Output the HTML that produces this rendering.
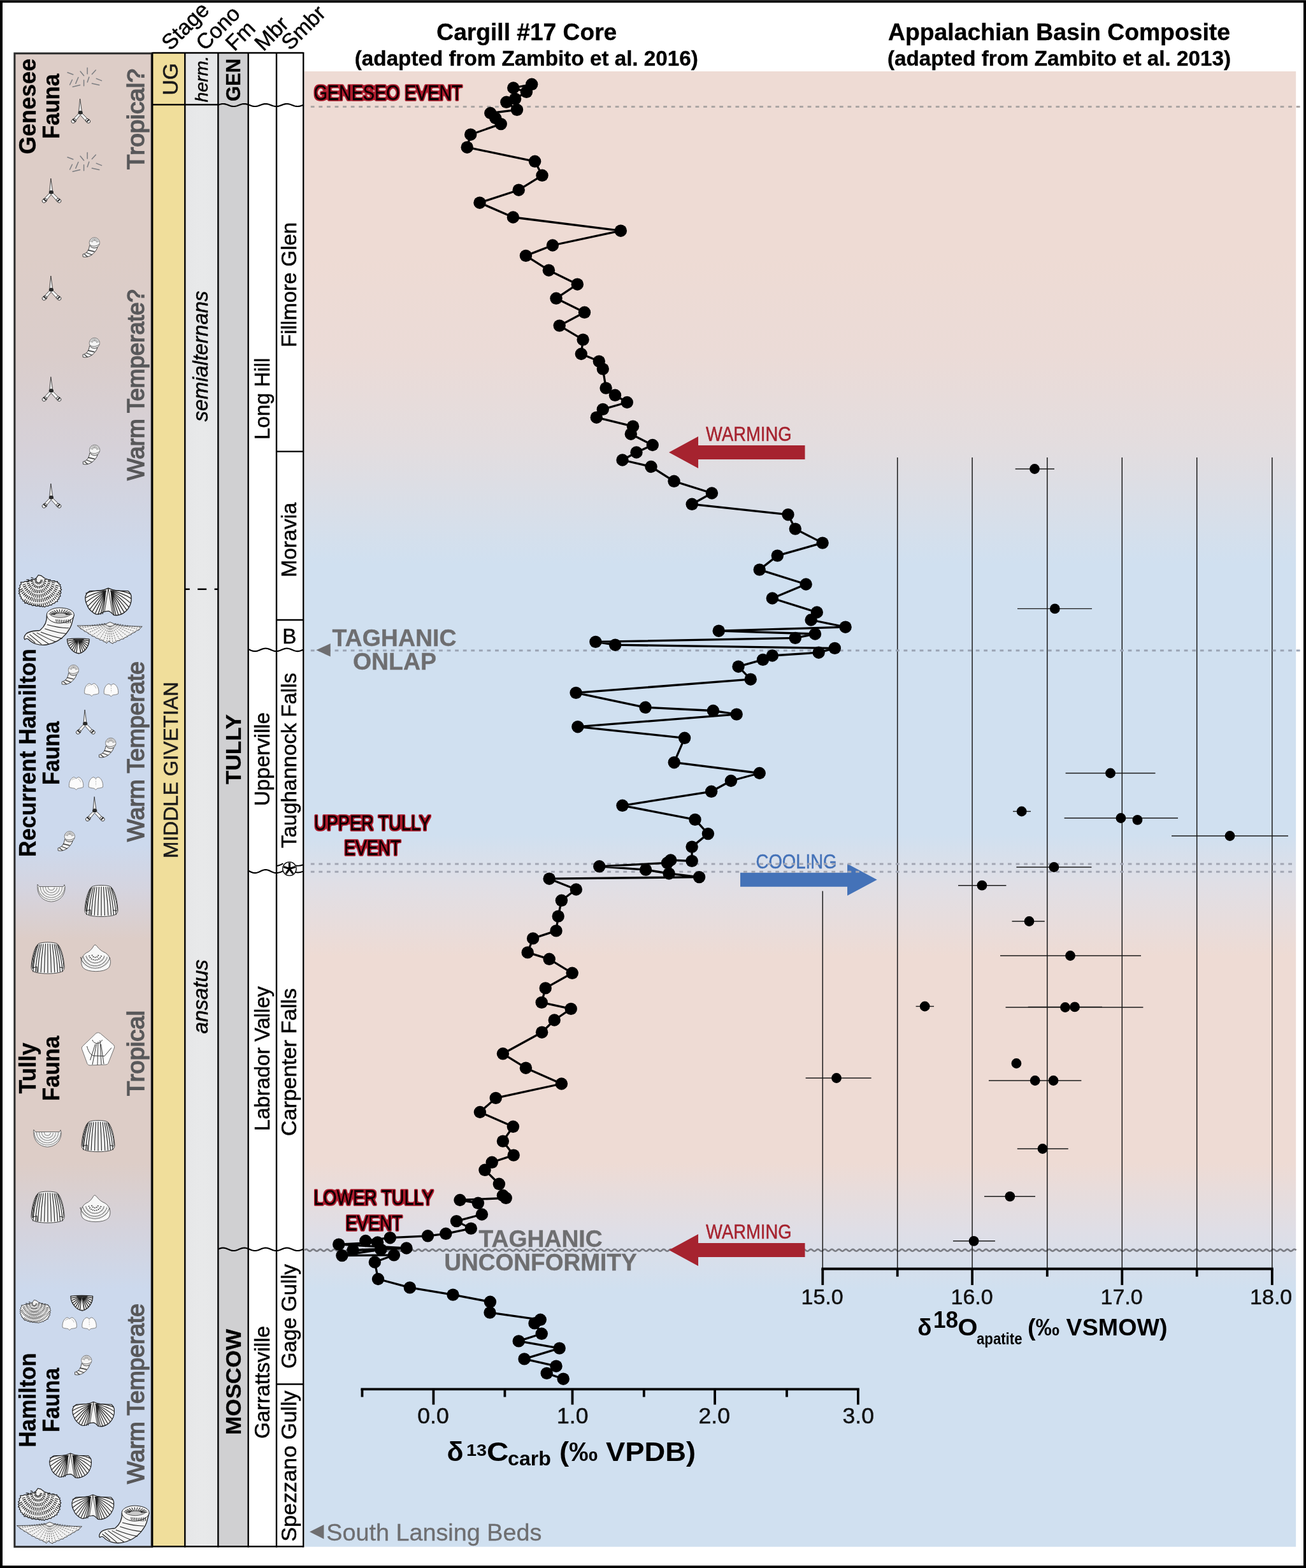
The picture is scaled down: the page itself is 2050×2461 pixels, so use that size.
<!DOCTYPE html>
<html lang="en"><head><meta charset="utf-8"><title>Taghanic Biocrisis chemostratigraphy</title>
<style>html,body{margin:0;padding:0;background:#fff}body{width:2050px;height:2461px;overflow:hidden}svg{display:block}text{font-family:"Liberation Sans", sans-serif}</style>
</head><body>
<svg width="2050" height="2461" viewBox="0 0 2050 2461">
<defs>
<linearGradient id="gp" x1="0" y1="0" x2="0" y2="1"><stop offset="0.0000" stop-color="#eedbd4"/><stop offset="0.1244" stop-color="#eedbd4"/><stop offset="0.1935" stop-color="#ebdbd7"/><stop offset="0.2539" stop-color="#e3dddf"/><stop offset="0.3338" stop-color="#d0e0f0"/><stop offset="0.5173" stop-color="#d0e0f0"/><stop offset="0.5497" stop-color="#e0dfe6"/><stop offset="0.5994" stop-color="#eedbd4"/><stop offset="0.7397" stop-color="#eedbd4"/><stop offset="0.7859" stop-color="#dfdee6"/><stop offset="0.8261" stop-color="#d0e0f0"/><stop offset="0.9997" stop-color="#d0e0f0"/></linearGradient>
<linearGradient id="gf" x1="0" y1="0" x2="0" y2="1"><stop offset="0.0000" stop-color="#ddcdc7"/><stop offset="0.1352" stop-color="#ddcdc7"/><stop offset="0.2035" stop-color="#dacdcb"/><stop offset="0.2632" stop-color="#d6d1d8"/><stop offset="0.3421" stop-color="#ccd9ed"/><stop offset="0.5298" stop-color="#ccd9ed"/><stop offset="0.5596" stop-color="#d5d4df"/><stop offset="0.5937" stop-color="#ddcdc7"/><stop offset="0.7430" stop-color="#ddcdc7"/><stop offset="0.7887" stop-color="#d4d3dd"/><stop offset="0.8283" stop-color="#ccd9ed"/><stop offset="0.9998" stop-color="#ccd9ed"/></linearGradient>
<linearGradient id="gc" x1="0" y1="0" x2="1" y2="0"><stop offset="0" stop-color="#e6e7e8"/><stop offset="0.5" stop-color="#e8e9ea"/><stop offset="1" stop-color="#e6e7e8"/></linearGradient>
<filter id="redol" x="-5%" y="-20%" width="110%" height="140%"><feMorphology in="SourceAlpha" operator="dilate" radius="2" result="d"/><feGaussianBlur in="d" stdDeviation="1.0" result="b"/><feComponentTransfer in="b" result="t"><feFuncA type="linear" slope="4" intercept="-2.3"/></feComponentTransfer><feFlood flood-color="#b01d2e"/><feComposite in2="t" operator="in" result="o"/><feMerge><feMergeNode in="o"/><feMergeNode in="SourceGraphic"/></feMerge></filter>
</defs>
<rect x="0" y="0" width="2050" height="2461" fill="#fff"/>
<rect x="478" y="112.0" width="1556.2" height="2315.7" fill="url(#gp)"/>
<rect x="22.9" y="83.8" width="215.29999999999998" height="2343.8999999999996" fill="url(#gf)" stroke="#2b2b2b" stroke-width="3"/>
<rect x="239.2" y="83.0" width="51.10000000000002" height="2344.3" fill="#f0de9b"/>
<rect x="290.3" y="83.0" width="52.099999999999966" height="2344.3" fill="url(#gc)"/>
<rect x="342.4" y="83.0" width="47.30000000000001" height="2344.3" fill="#d0d0d2"/>
<rect x="389.7" y="83.0" width="44.30000000000001" height="2344.3" fill="#fff"/>
<rect x="434.0" y="83.0" width="42.19999999999999" height="2344.3" fill="#fff"/>
<!--FOSSILS-->
<g id="fossils">
<g transform="translate(132.5,122.0)">
<path d="M-26.5,-8.2 L-17.8,-5 M-6.4,-10 L-0.9,-3.2 M4.6,-15.5 L4.6,-6 M17.8,-11.9 L11.9,-5.5 M-9.6,-0.5 L-13.7,9.1 M-19.2,3.2 L-22.9,11 M-0.9,3.7 L-0.9,12.8 M7.3,-0.9 L4.6,6.9 M18.8,1.4 L27,4.6 M11.9,9.1 L23.3,11.4 M-18.3,14.2 L-6.9,11.4" stroke="#6b7076" stroke-width="1.5" fill="none" stroke-linecap="round" opacity="0.85"/>
</g>
<g transform="translate(126.0,175.5)">
<path d="M-0.4,-20.5 L-2.3,-1 L2.3,-1 Z" fill="#f6f6f6" stroke="#1e1e1e" stroke-width="0.8" stroke-linejoin="round"/>
<path d="M-2,2 L-11.5,12 L-8.5,15.5 L0,5 L9.5,15.5 L13,12.5 L2.5,2 Z" fill="#f6f6f6" stroke="#1e1e1e" stroke-width="0.8" stroke-linejoin="round"/>
<ellipse cx="0.2" cy="1.2" rx="3.6" ry="3" fill="#2a2a2a"/>
<ellipse cx="-10.3" cy="14.3" rx="4" ry="3" transform="rotate(-35 -10.3 14.3)" fill="#f6f6f6" stroke="#1e1e1e" stroke-width="0.8"/>
<ellipse cx="12" cy="14.3" rx="4" ry="3" transform="rotate(35 12 14.3)" fill="#f6f6f6" stroke="#1e1e1e" stroke-width="0.8"/>
<path d="M-12,11.5 L-7.5,15.5 M10,15.5 L14,12" stroke="#2a2a2a" stroke-width="2.2" fill="none"/>
</g>
<g transform="translate(132.5,255.0)">
<path d="M-26.5,-8.2 L-17.8,-5 M-6.4,-10 L-0.9,-3.2 M4.6,-15.5 L4.6,-6 M17.8,-11.9 L11.9,-5.5 M-9.6,-0.5 L-13.7,9.1 M-19.2,3.2 L-22.9,11 M-0.9,3.7 L-0.9,12.8 M7.3,-0.9 L4.6,6.9 M18.8,1.4 L27,4.6 M11.9,9.1 L23.3,11.4 M-18.3,14.2 L-6.9,11.4" stroke="#6b7076" stroke-width="1.5" fill="none" stroke-linecap="round" opacity="0.85"/>
</g>
<g transform="translate(80.2,300.5)">
<path d="M-0.4,-20.5 L-2.3,-1 L2.3,-1 Z" fill="#f6f6f6" stroke="#1e1e1e" stroke-width="0.8" stroke-linejoin="round"/>
<path d="M-2,2 L-11.5,12 L-8.5,15.5 L0,5 L9.5,15.5 L13,12.5 L2.5,2 Z" fill="#f6f6f6" stroke="#1e1e1e" stroke-width="0.8" stroke-linejoin="round"/>
<ellipse cx="0.2" cy="1.2" rx="3.6" ry="3" fill="#2a2a2a"/>
<ellipse cx="-10.3" cy="14.3" rx="4" ry="3" transform="rotate(-35 -10.3 14.3)" fill="#f6f6f6" stroke="#1e1e1e" stroke-width="0.8"/>
<ellipse cx="12" cy="14.3" rx="4" ry="3" transform="rotate(35 12 14.3)" fill="#f6f6f6" stroke="#1e1e1e" stroke-width="0.8"/>
<path d="M-12,11.5 L-7.5,15.5 M10,15.5 L14,12" stroke="#2a2a2a" stroke-width="2.2" fill="none"/>
</g>
<g transform="translate(143.5,388.5)">
<path d="M-3,-3 C-4,5 -8,9.5 -13.4,10.5 L-13.4,14.5 C-5,16.5 5,11 9.5,0 Z" fill="#f4f4f4" stroke="#444" stroke-width="1" stroke-linejoin="round"/>
<path d="M-5.5,4 L5,6.5 M-8,8 L1,11.5 M-11,10.5 L-6,14.5" stroke="#333" stroke-width="1.3" fill="none"/>
<circle cx="4.8" cy="-7.6" r="8.2" fill="#f4f4f4" stroke="#666" stroke-width="0.8"/>
<path d="M2.0,-8.6 L-2.3,-10.2 M2.4,-9.4 L-1.2,-12.3 M3.1,-10.1 L0.6,-13.9 M4.0,-10.5 L2.7,-14.9 M4.9,-10.6 L5.1,-15.2 M5.8,-10.4 L7.4,-14.7 M6.6,-10.0 L9.5,-13.6 M7.3,-9.3 L11.1,-11.8 M7.7,-8.4 L12.1,-9.7 " stroke="#777" stroke-width="0.8" fill="none"/>
<path d="M-2.5,-4.5 C1,-1 8,-1.5 12.5,-5.5 M-1.5,-1.5 C3,2 8,1 11,-2" stroke="#555" stroke-width="0.9" fill="none"/>
</g>
<g transform="translate(80.2,453.5)">
<path d="M-0.4,-20.5 L-2.3,-1 L2.3,-1 Z" fill="#f6f6f6" stroke="#1e1e1e" stroke-width="0.8" stroke-linejoin="round"/>
<path d="M-2,2 L-11.5,12 L-8.5,15.5 L0,5 L9.5,15.5 L13,12.5 L2.5,2 Z" fill="#f6f6f6" stroke="#1e1e1e" stroke-width="0.8" stroke-linejoin="round"/>
<ellipse cx="0.2" cy="1.2" rx="3.6" ry="3" fill="#2a2a2a"/>
<ellipse cx="-10.3" cy="14.3" rx="4" ry="3" transform="rotate(-35 -10.3 14.3)" fill="#f6f6f6" stroke="#1e1e1e" stroke-width="0.8"/>
<ellipse cx="12" cy="14.3" rx="4" ry="3" transform="rotate(35 12 14.3)" fill="#f6f6f6" stroke="#1e1e1e" stroke-width="0.8"/>
<path d="M-12,11.5 L-7.5,15.5 M10,15.5 L14,12" stroke="#2a2a2a" stroke-width="2.2" fill="none"/>
</g>
<g transform="translate(143.5,546.0)">
<path d="M-3,-3 C-4,5 -8,9.5 -13.4,10.5 L-13.4,14.5 C-5,16.5 5,11 9.5,0 Z" fill="#f4f4f4" stroke="#444" stroke-width="1" stroke-linejoin="round"/>
<path d="M-5.5,4 L5,6.5 M-8,8 L1,11.5 M-11,10.5 L-6,14.5" stroke="#333" stroke-width="1.3" fill="none"/>
<circle cx="4.8" cy="-7.6" r="8.2" fill="#f4f4f4" stroke="#666" stroke-width="0.8"/>
<path d="M2.0,-8.6 L-2.3,-10.2 M2.4,-9.4 L-1.2,-12.3 M3.1,-10.1 L0.6,-13.9 M4.0,-10.5 L2.7,-14.9 M4.9,-10.6 L5.1,-15.2 M5.8,-10.4 L7.4,-14.7 M6.6,-10.0 L9.5,-13.6 M7.3,-9.3 L11.1,-11.8 M7.7,-8.4 L12.1,-9.7 " stroke="#777" stroke-width="0.8" fill="none"/>
<path d="M-2.5,-4.5 C1,-1 8,-1.5 12.5,-5.5 M-1.5,-1.5 C3,2 8,1 11,-2" stroke="#555" stroke-width="0.9" fill="none"/>
</g>
<g transform="translate(80.2,612.0)">
<path d="M-0.4,-20.5 L-2.3,-1 L2.3,-1 Z" fill="#f6f6f6" stroke="#1e1e1e" stroke-width="0.8" stroke-linejoin="round"/>
<path d="M-2,2 L-11.5,12 L-8.5,15.5 L0,5 L9.5,15.5 L13,12.5 L2.5,2 Z" fill="#f6f6f6" stroke="#1e1e1e" stroke-width="0.8" stroke-linejoin="round"/>
<ellipse cx="0.2" cy="1.2" rx="3.6" ry="3" fill="#2a2a2a"/>
<ellipse cx="-10.3" cy="14.3" rx="4" ry="3" transform="rotate(-35 -10.3 14.3)" fill="#f6f6f6" stroke="#1e1e1e" stroke-width="0.8"/>
<ellipse cx="12" cy="14.3" rx="4" ry="3" transform="rotate(35 12 14.3)" fill="#f6f6f6" stroke="#1e1e1e" stroke-width="0.8"/>
<path d="M-12,11.5 L-7.5,15.5 M10,15.5 L14,12" stroke="#2a2a2a" stroke-width="2.2" fill="none"/>
</g>
<g transform="translate(143.8,714.0)">
<path d="M-3,-3 C-4,5 -8,9.5 -13.4,10.5 L-13.4,14.5 C-5,16.5 5,11 9.5,0 Z" fill="#f4f4f4" stroke="#444" stroke-width="1" stroke-linejoin="round"/>
<path d="M-5.5,4 L5,6.5 M-8,8 L1,11.5 M-11,10.5 L-6,14.5" stroke="#333" stroke-width="1.3" fill="none"/>
<circle cx="4.8" cy="-7.6" r="8.2" fill="#f4f4f4" stroke="#666" stroke-width="0.8"/>
<path d="M2.0,-8.6 L-2.3,-10.2 M2.4,-9.4 L-1.2,-12.3 M3.1,-10.1 L0.6,-13.9 M4.0,-10.5 L2.7,-14.9 M4.9,-10.6 L5.1,-15.2 M5.8,-10.4 L7.4,-14.7 M6.6,-10.0 L9.5,-13.6 M7.3,-9.3 L11.1,-11.8 M7.7,-8.4 L12.1,-9.7 " stroke="#777" stroke-width="0.8" fill="none"/>
<path d="M-2.5,-4.5 C1,-1 8,-1.5 12.5,-5.5 M-1.5,-1.5 C3,2 8,1 11,-2" stroke="#555" stroke-width="0.9" fill="none"/>
</g>
<g transform="translate(80.2,779.5)">
<path d="M-0.4,-20.5 L-2.3,-1 L2.3,-1 Z" fill="#f6f6f6" stroke="#1e1e1e" stroke-width="0.8" stroke-linejoin="round"/>
<path d="M-2,2 L-11.5,12 L-8.5,15.5 L0,5 L9.5,15.5 L13,12.5 L2.5,2 Z" fill="#f6f6f6" stroke="#1e1e1e" stroke-width="0.8" stroke-linejoin="round"/>
<ellipse cx="0.2" cy="1.2" rx="3.6" ry="3" fill="#2a2a2a"/>
<ellipse cx="-10.3" cy="14.3" rx="4" ry="3" transform="rotate(-35 -10.3 14.3)" fill="#f6f6f6" stroke="#1e1e1e" stroke-width="0.8"/>
<ellipse cx="12" cy="14.3" rx="4" ry="3" transform="rotate(35 12 14.3)" fill="#f6f6f6" stroke="#1e1e1e" stroke-width="0.8"/>
<path d="M-12,11.5 L-7.5,15.5 M10,15.5 L14,12" stroke="#2a2a2a" stroke-width="2.2" fill="none"/>
</g>
<g transform="translate(63.0,927.7)">
<polygon points="-2.8,-25.2 -3.8,-23.6 -4.9,-22.1 -6.0,-20.6 -7.0,-19.0 -9.8,-18.4 -12.5,-17.8 -14.5,-16.3 -18.0,-16.5 -20.0,-15.0 -24.2,-15.2 -25.9,-13.8 -30.4,-13.8 -29.6,-10.8 -32.0,-8.9 -31.2,-6.1 -33.6,-4.0 -31.9,-1.9 -33.6,-0.1 -31.9,1.8 -33.6,3.8 -31.1,5.6 -31.8,7.9 -29.4,9.5 -30.0,12.0 -27.1,13.0 -27.1,15.4 -24.4,16.3 -24.2,18.9 -20.1,18.9 -18.1,20.9 -14.3,20.9 -12.0,23.0 -8.5,22.2 -6.0,23.8 -2.8,22.9 0.0,24.5 1.7,23.4 3.6,24.9 5.2,23.8 7.3,25.2 9.5,23.2 12.6,23.6 14.6,21.7 18.0,22.0 19.3,19.6 22.7,19.2 23.8,16.9 27.4,16.4 27.1,13.6 29.7,12.2 29.3,9.6 32.0,8.0 30.8,5.1 32.9,2.8 31.6,0.1 33.7,-2.5 31.6,-4.2 32.9,-6.2 30.8,-7.7 32.0,-10.0 29.3,-10.7 29.7,-12.6 27.1,-13.1 27.4,-15.1 23.3,-14.8 21.7,-16.1 17.9,-15.7 16.0,-17.0 13.1,-16.9 11.7,-18.5 9.5,-19.2 7.3,-20.0 6.0,-21.0 4.7,-22.0 3.3,-23.0 2.0,-24.0 0.8,-24.3 -0.4,-24.6 -1.6,-24.9" fill="#f2f2f2" stroke="#1e1e1e" stroke-width="1.2" stroke-linejoin="round"/>
<path d="M0.5,-17.0 L4.0,-16.9 M0.2,-15.6 L3.3,-14.0 M-0.6,-14.5 L1.5,-11.6 M-1.8,-13.9 L-1.1,-10.3 M-3.2,-13.9 L-3.9,-10.3 M-4.4,-14.5 L-6.5,-11.6 M-5.2,-15.6 L-8.3,-14.0 M-5.5,-17.0 L-9.0,-16.9 M-5.2,-18.3 L-8.4,-19.9 M6.0,-17.7 L10.0,-18.1 M5.9,-15.5 L9.8,-14.8 M5.2,-13.3 L8.9,-11.6 M4.1,-11.4 L7.2,-8.7 M2.5,-9.8 L4.9,-6.4 M0.7,-8.7 L2.2,-4.8 M-1.4,-8.1 L-0.9,-4.0 M-3.6,-8.1 L-4.1,-4.0 M-5.7,-8.7 L-7.2,-4.8 M-7.5,-9.8 L-9.9,-6.4 M-9.1,-11.4 L-12.2,-8.7 M-10.2,-13.3 L-13.9,-11.6 M-10.9,-15.5 L-14.8,-14.8 M-11.0,-17.7 L-15.0,-18.1 M-10.5,-19.9 L-14.3,-21.3 M12.0,-17.6 L16.5,-17.8 M11.9,-15.0 L16.3,-14.4 M11.4,-12.5 L15.7,-11.1 M10.4,-10.1 L14.5,-8.0 M9.1,-7.9 L12.8,-5.1 M7.5,-6.0 L10.6,-2.6 M5.6,-4.4 L8.1,-0.5 M3.5,-3.1 L5.3,1.2 M1.1,-2.3 L2.3,2.3 M-1.3,-1.8 L-0.9,2.9 M-3.7,-1.8 L-4.1,2.9 M-6.1,-2.3 L-7.3,2.3 M-8.5,-3.1 L-10.3,1.2 M-10.6,-4.4 L-13.1,-0.5 M-12.5,-6.0 L-15.6,-2.6 M-14.1,-7.9 L-17.8,-5.1 M-15.4,-10.1 L-19.5,-8.0 M-16.4,-12.5 L-20.7,-11.1 M-16.9,-15.0 L-21.3,-14.4 M-17.0,-17.6 L-21.5,-17.8 M18.5,-16.2 L23.5,-16.0 M18.2,-13.5 L23.2,-12.7 M17.7,-10.9 L22.5,-9.4 M16.8,-8.3 L21.4,-6.3 M15.6,-5.9 L20.0,-3.3 M14.2,-3.7 L18.2,-0.5 M12.5,-1.6 L16.1,2.1 M10.6,0.2 L13.8,4.3 M8.5,1.8 L11.1,6.2 M6.2,3.0 L8.3,7.8 M3.8,4.0 L5.4,9.0 M1.3,4.7 L2.3,9.8 M-1.2,5.0 L-0.9,10.2 M-3.8,5.0 L-4.1,10.2 M-6.3,4.7 L-7.3,9.8 M-8.8,4.0 L-10.4,9.0 M-11.2,3.0 L-13.3,7.8 M-13.5,1.8 L-16.1,6.2 M-15.6,0.2 L-18.8,4.3 M-17.5,-1.6 L-21.1,2.1 M-19.2,-3.7 L-23.2,-0.5 M-20.6,-5.9 L-25.0,-3.3 M-21.8,-8.3 L-26.4,-6.3 M-22.7,-10.9 L-27.5,-9.4 M24.5,-9.1 L29.3,-7.7 M23.6,-6.4 L28.3,-4.5 M22.5,-3.8 L27.0,-1.5 M21.2,-1.4 L25.5,1.4 M19.7,0.9 L23.6,4.2 M17.9,3.1 L21.6,6.7 M16.0,5.1 L19.3,9.0 M13.9,6.8 L16.8,11.1 M11.6,8.4 L14.2,12.9 M9.2,9.7 L11.3,14.5 M6.8,10.7 L8.4,15.7 M4.2,11.6 L5.4,16.7 M1.5,12.1 L2.2,17.3 M-1.2,12.4 L-0.9,17.6 M-3.8,12.4 L-4.1,17.6 M-6.5,12.1 L-7.2,17.3 M-9.2,11.6 L-10.4,16.7 M-11.8,10.7 L-13.4,15.7 M-14.2,9.7 L-16.3,14.5 M-16.6,8.4 L-19.2,12.9 M-18.9,6.8 L-21.8,11.1 M-21.0,5.1 L-24.3,9.0 M-22.9,3.1 L-26.6,6.7 M-24.7,0.9 L-28.6,4.2 M-26.2,-1.4 L-30.5,1.4 M-27.5,-3.8 L-32.0,-1.5 M29.0,-0.9 L32.6,0.9 M27.6,1.8 L31.0,3.9 M26.0,4.3 L29.3,6.7 M24.2,6.7 L27.3,9.4 M22.3,9.0 L25.1,11.9 M20.1,11.0 L22.7,14.2 M17.9,12.9 L20.2,16.3 M15.4,14.6 L17.5,18.2 M12.9,16.0 L14.7,19.8 M10.2,17.2 L11.7,21.1 M7.5,18.2 L8.6,22.2 M4.7,19.0 L5.5,23.1 M1.8,19.5 L2.3,23.6 M-1.1,19.7 L-0.9,23.9 M-3.9,19.7 L-4.1,23.9 M-6.8,19.5 L-7.3,23.6 M-9.7,19.0 L-10.5,23.1 M-12.5,18.2 L-13.6,22.2 M-15.2,17.2 L-16.7,21.1 M-17.9,16.0 L-19.7,19.8 M-20.4,14.6 L-22.5,18.2 M-22.9,12.9 L-25.2,16.3 " stroke="#1e1e1e" stroke-width="1.2" fill="none"/>
<path d="M-12,-16 C-8,-12 3,-12 8,-17 M-20,-13 C-12,-4 8,-4 17,-14 M-27,-8 C-16,6 12,6 25,-9 M-31,0 C-20,15 18,15 31,0" stroke="#1e1e1e" stroke-width="0.7" stroke-dasharray="2 2" fill="none"/>
</g>
<g transform="translate(170.0,944.6)">
<path d="M0,-21.4 C4,-19.5 8,-17.8 14,-17.5 L31,-17 C34.5,-14 36.2,-10 36,-7 C36.5,-1 35,4 33,7.5 C31,12 28,15 24,17.5 C18,21 12,21.6 8.5,20.7 C6,18 3,15 0,14.5 C-3,15 -5,15 -7.8,16 C-12,18.5 -16,20 -19,19.5 C-22,18.5 -24,17 -25.4,15.7 C-29,13 -32,9 -33,5.7 C-35.5,1 -36.4,-4 -36,-8 C-35,-12 -32,-15.5 -29,-17 L-14,-17.5 C-8,-17.8 -4,-19.5 0,-21.4 Z" fill="#f4f4f4" stroke="#1e1e1e" stroke-width="1.3" stroke-linejoin="round"/>
<path d="M3.0,-17.5 Q22.2,-18.8 35.5,-12 M-3.0,-17.5 Q-22.2,-18.8 -35.5,-13.2 M3.1,-17.3 Q22.1,-14.7 36,-5 M-3.1,-17.3 Q-22.1,-14.7 -36,-6.2 M3.3,-17.1 Q21.2,-10.6 35,2 M-3.3,-17.1 Q-21.2,-10.6 -35,0.8 M3.5,-16.9 Q19.6,-6.7 32.5,8.5 M-3.5,-16.9 Q-19.6,-6.7 -32.5,7.3 M3.6,-16.7 Q17.5,-3.8 29,13 M-3.6,-16.7 Q-17.5,-3.8 -29,11.8 M3.8,-16.5 Q15.1,-1.5 25,16.5 M-3.8,-16.5 Q-15.1,-1.5 -25,15.3 M3.9,-16.3 Q12.5,0.5 20.5,19.3 M-3.9,-16.3 Q-12.5,0.5 -20.5,18.1 M4.0,-16.1 Q9.9,1.8 16,20.8 M-4.0,-16.1 Q-9.9,1.8 -16,19.6 M4.2,-15.9 Q7.5,2.6 12,21.2 M-4.2,-15.9 Q-7.5,2.6 -12,20.0 M4.3,-15.7 Q5.6,2.9 9,20.5 M-4.3,-15.7 Q-5.6,2.9 -9,19.3 " stroke="#1e1e1e" stroke-width="1.2" fill="none"/>
<path d="M0,-21 L-6,15.5 M0,-21 L6.5,18" stroke="#1e1e1e" stroke-width="0.9" fill="none"/>
</g>
<g transform="translate(37.6,953.5)">
<path d="M35.8,11.9 C36.5,22.0 32.7,29.6 25.2,35.8 C18.9,37.1 11.3,35.8 3.8,40.9 C0.0,44.7 -0.6,48.4 1.3,50.3 C3.1,48.4 5.7,48.4 7.5,50.3 C12.6,56.0 23.9,60.4 35.2,58.5 C47.8,56.6 59.1,49.7 65.4,42.1 C70.4,35.8 74.8,28.3 75.5,23.3 L78.6,11.9 Z" fill="#f4f4f4" stroke="#1e1e1e" stroke-width="1.3" stroke-linejoin="round"/>
<path d="M35.8,11.9 C35.2,4.4 47.8,-0.6 59.1,0.6 C70.4,1.3 79.2,5.7 78.6,11.9 C78.0,18.2 69.2,23.3 57.9,24.5 C46.5,25.2 36.5,19.5 35.8,11.9 Z" fill="#f6f6f6" stroke="#1e1e1e" stroke-width="1"/>
<path d="M41.5,11.9 C47.8,8.2 62.9,7.5 73.0,11.3 C65.4,17.0 50.3,17.6 41.5,11.9 Z" fill="#c9c9c9" stroke="#1e1e1e" stroke-width="0.7"/>
<path d="M48.7,11.0 L39.0,9.9 M49.5,10.2 L40.7,7.8 M50.8,9.5 L43.4,5.9 M52.4,9.0 L47.0,4.4 M54.4,8.6 L51.1,3.4 M56.5,8.4 L55.6,2.9 M58.6,8.5 L60.2,3.0 M60.7,8.7 L64.6,3.6 M62.5,9.1 L68.6,4.8 M64.1,9.7 L71.9,6.4 M65.2,10.5 L74.3,8.3 M65.9,11.3 L75.8,10.5 M50.3,18.5 L50.9,22.9 M53.1,18.7 L53.7,23.3 M55.8,19.0 L56.5,23.6 M58.6,19.2 L59.2,24.0 M61.4,19.5 L62.0,24.4 M64.2,19.2 L64.8,24.8 M66.9,19.0 L67.5,25.2 M69.7,18.7 L70.3,24.8 M72.5,18.5 L73.1,24.4 M36.5,27.0 Q57.2,32.7 70.4,32.1 M32.7,33.3 Q53.5,40.3 66.7,40.9 M26.4,38.4 Q47.2,46.5 60.4,48.4 M20.1,39.6 Q39.0,50.0 50.3,54.1 M13.8,39.6 Q30.2,51.6 39.0,57.2 M8.8,42.1 Q22.0,53.1 27.7,57.9 M5.0,44.7 Q15.1,53.1 17.6,55.3 " stroke="#1e1e1e" stroke-width="1.05" fill="none"/>
</g>
<g transform="translate(172.2,993.0)">
<polygon points="-51.0,-11.0 -20.0,-11.5 -8.0,-13.0 0.5,-16.6 9.0,-13.0 22.0,-10.5 51.0,-9.7 47.2,-6.2 46.0,-4.2 41.2,-2.7 40.0,-0.7 35.2,0.8 34.0,2.8 29.2,4.3 28.0,6.3 23.2,7.8 22.0,9.8 17.2,10.3 16.0,12.3 11.2,12.8 10.0,14.8 6.2,15.3 5.0,17.3 0.0,14.8 -1.2,12.8 -5.0,16.8 -6.2,14.8 -10.0,13.8 -11.2,11.8 -16.0,11.3 -17.2,9.3 -22.0,8.3 -23.2,6.3 -28.0,5.3 -29.2,3.3 -34.0,1.3 -35.2,-0.7 -40.0,-2.2 -41.2,-4.2 -46.0,-6.2 -47.2,-8.2" fill="#f1f1f1" stroke="#333" stroke-width="0.9" stroke-linejoin="round"/>
<path d="M7.8,-13.8 L46,-5 M6.8,-13.3 L40,-1.5 M5.9,-12.7 L34,2 M4.9,-12.1 L28,5.5 M3.9,-11.6 L22,9 M3.0,-11.2 L16,11.5 M2.0,-10.8 L10,14 M1.2,-10.4 L5,16.5 M0.4,-10.8 L0,14 M-0.4,-10.5 L-5,16 M-1.2,-10.9 L-10,13 M-2.1,-11.3 L-16,10.5 M-3.1,-11.8 L-22,7.5 M-4.1,-12.3 L-28,4.5 M-5.0,-12.9 L-34,0.5 M-6.0,-13.5 L-40,-3 M-6.9,-14.1 L-46,-7 M8.3,-14.3 L49,-8 M-7.4,-14.5 L-49,-9 " stroke="#444" stroke-width="0.8" stroke-dasharray="2.2 1.6" fill="none"/>
</g>
<g transform="translate(122.8,1014.2)">
<path d="M-17.3,-11 C-10,-12.5 10,-12.5 17.3,-11 C17.5,-2 12,9 1,11.6 C-10,10.5 -17.5,-2 -17.3,-11 Z" fill="#f4f4f4" stroke="#1e1e1e" stroke-width="1.3" stroke-linejoin="round"/>
<path d="M3.0,-10.3 L17.3,-8.3 M2.9,-10.0 L16.5,-4.4 M2.6,-9.7 L15.0,-0.7 M2.3,-9.5 L12.9,2.7 M1.9,-9.3 L10.3,5.7 M1.5,-9.1 L7.3,8.2 M1.0,-9.0 L4.0,10.0 M0.5,-9.0 L0.5,11.0 M-0.0,-9.0 L-3.0,10.0 M-0.5,-9.1 L-6.3,8.2 M-0.9,-9.3 L-9.3,5.7 M-1.3,-9.5 L-11.9,2.7 M-1.6,-9.7 L-14.0,-0.7 M-1.9,-10.0 L-15.5,-4.4 M-2.0,-10.3 L-16.3,-8.3 " stroke="#1e1e1e" stroke-width="1.2" fill="none"/>
<path d="M-9,-11.5 C-4,-8 5,-8 10,-11.5 Z" fill="#333"/>
<path d="M0,-10 L-2.5,10.5 L3.5,11 Z" fill="#f8f8f8" stroke="#1e1e1e" stroke-width="0.6"/>
</g>
<g transform="translate(110.6,1059.4)">
<path d="M-3,-3 C-4,5 -8,9.5 -13.4,10.5 L-13.4,14.5 C-5,16.5 5,11 9.5,0 Z" fill="#f4f4f4" stroke="#444" stroke-width="1" stroke-linejoin="round"/>
<path d="M-5.5,4 L5,6.5 M-8,8 L1,11.5 M-11,10.5 L-6,14.5" stroke="#333" stroke-width="1.3" fill="none"/>
<circle cx="4.8" cy="-7.6" r="8.2" fill="#f4f4f4" stroke="#666" stroke-width="0.8"/>
<path d="M2.0,-8.6 L-2.3,-10.2 M2.4,-9.4 L-1.2,-12.3 M3.1,-10.1 L0.6,-13.9 M4.0,-10.5 L2.7,-14.9 M4.9,-10.6 L5.1,-15.2 M5.8,-10.4 L7.4,-14.7 M6.6,-10.0 L9.5,-13.6 M7.3,-9.3 L11.1,-11.8 M7.7,-8.4 L12.1,-9.7 " stroke="#777" stroke-width="0.8" fill="none"/>
<path d="M-2.5,-4.5 C1,-1 8,-1.5 12.5,-5.5 M-1.5,-1.5 C3,2 8,1 11,-2" stroke="#555" stroke-width="0.9" fill="none"/>
</g>
<g transform="translate(143.8,1082.5)">
<path d="M-11,6 C-12.2,-2 -8,-9.3 -3.2,-9.8 L0,-7.6 L3.2,-9.8 C8,-9.3 12.2,-2 11,6 C8,7.6 4,7.4 2.2,8 L0,10.3 L-2.2,8 C-4,7.4 -8,7.6 -11,6 Z" fill="#fbfbfb" stroke="#777" stroke-width="0.9" stroke-linejoin="round"/>
<path d="M-7,-5 C-5,-7 -3,-7.5 -2,-7 M3,-7 C5,-6 6.5,-4 7,-2" stroke="#999" stroke-width="0.7" fill="none"/>
</g>
<g transform="translate(174.4,1083.0)">
<path d="M-11,6 C-12.2,-2 -8,-9.3 -3.2,-9.8 L0,-7.6 L3.2,-9.8 C8,-9.3 12.2,-2 11,6 C8,7.6 4,7.4 2.2,8 L0,10.3 L-2.2,8 C-4,7.4 -8,7.6 -11,6 Z" fill="#fbfbfb" stroke="#777" stroke-width="0.9" stroke-linejoin="round"/>
<path d="M0,-7 L0.3,4" stroke="#999" stroke-width="0.7" stroke-dasharray="2 1.5" fill="none"/>
</g>
<g transform="translate(133.5,1134.5)">
<path d="M-0.4,-20.5 L-2.3,-1 L2.3,-1 Z" fill="#f6f6f6" stroke="#1e1e1e" stroke-width="0.8" stroke-linejoin="round"/>
<path d="M-2,2 L-11.5,12 L-8.5,15.5 L0,5 L9.5,15.5 L13,12.5 L2.5,2 Z" fill="#f6f6f6" stroke="#1e1e1e" stroke-width="0.8" stroke-linejoin="round"/>
<ellipse cx="0.2" cy="1.2" rx="3.6" ry="3" fill="#2a2a2a"/>
<ellipse cx="-10.3" cy="14.3" rx="4" ry="3" transform="rotate(-35 -10.3 14.3)" fill="#f6f6f6" stroke="#1e1e1e" stroke-width="0.8"/>
<ellipse cx="12" cy="14.3" rx="4" ry="3" transform="rotate(35 12 14.3)" fill="#f6f6f6" stroke="#1e1e1e" stroke-width="0.8"/>
<path d="M-12,11.5 L-7.5,15.5 M10,15.5 L14,12" stroke="#2a2a2a" stroke-width="2.2" fill="none"/>
</g>
<g transform="translate(169.0,1174.0)">
<path d="M-3,-3 C-4,5 -8,9.5 -13.4,10.5 L-13.4,14.5 C-5,16.5 5,11 9.5,0 Z" fill="#f4f4f4" stroke="#444" stroke-width="1" stroke-linejoin="round"/>
<path d="M-5.5,4 L5,6.5 M-8,8 L1,11.5 M-11,10.5 L-6,14.5" stroke="#333" stroke-width="1.3" fill="none"/>
<circle cx="4.8" cy="-7.6" r="8.2" fill="#f4f4f4" stroke="#666" stroke-width="0.8"/>
<path d="M2.0,-8.6 L-2.3,-10.2 M2.4,-9.4 L-1.2,-12.3 M3.1,-10.1 L0.6,-13.9 M4.0,-10.5 L2.7,-14.9 M4.9,-10.6 L5.1,-15.2 M5.8,-10.4 L7.4,-14.7 M6.6,-10.0 L9.5,-13.6 M7.3,-9.3 L11.1,-11.8 M7.7,-8.4 L12.1,-9.7 " stroke="#777" stroke-width="0.8" fill="none"/>
<path d="M-2.5,-4.5 C1,-1 8,-1.5 12.5,-5.5 M-1.5,-1.5 C3,2 8,1 11,-2" stroke="#555" stroke-width="0.9" fill="none"/>
</g>
<g transform="translate(119.6,1229.5)">
<path d="M-11,6 C-12.2,-2 -8,-9.3 -3.2,-9.8 L0,-7.6 L3.2,-9.8 C8,-9.3 12.2,-2 11,6 C8,7.6 4,7.4 2.2,8 L0,10.3 L-2.2,8 C-4,7.4 -8,7.6 -11,6 Z" fill="#fbfbfb" stroke="#777" stroke-width="0.9" stroke-linejoin="round"/>
<path d="M-7,-5 C-5,-7 -3,-7.5 -2,-7 M3,-7 C5,-6 6.5,-4 7,-2" stroke="#999" stroke-width="0.7" fill="none"/>
</g>
<g transform="translate(150.3,1229.5)">
<path d="M-11,6 C-12.2,-2 -8,-9.3 -3.2,-9.8 L0,-7.6 L3.2,-9.8 C8,-9.3 12.2,-2 11,6 C8,7.6 4,7.4 2.2,8 L0,10.3 L-2.2,8 C-4,7.4 -8,7.6 -11,6 Z" fill="#fbfbfb" stroke="#777" stroke-width="0.9" stroke-linejoin="round"/>
<path d="M0,-7 L0.3,4" stroke="#999" stroke-width="0.7" stroke-dasharray="2 1.5" fill="none"/>
</g>
<g transform="translate(148.5,1271.0)">
<path d="M-0.4,-20.5 L-2.3,-1 L2.3,-1 Z" fill="#f6f6f6" stroke="#1e1e1e" stroke-width="0.8" stroke-linejoin="round"/>
<path d="M-2,2 L-11.5,12 L-8.5,15.5 L0,5 L9.5,15.5 L13,12.5 L2.5,2 Z" fill="#f6f6f6" stroke="#1e1e1e" stroke-width="0.8" stroke-linejoin="round"/>
<ellipse cx="0.2" cy="1.2" rx="3.6" ry="3" fill="#2a2a2a"/>
<ellipse cx="-10.3" cy="14.3" rx="4" ry="3" transform="rotate(-35 -10.3 14.3)" fill="#f6f6f6" stroke="#1e1e1e" stroke-width="0.8"/>
<ellipse cx="12" cy="14.3" rx="4" ry="3" transform="rotate(35 12 14.3)" fill="#f6f6f6" stroke="#1e1e1e" stroke-width="0.8"/>
<path d="M-12,11.5 L-7.5,15.5 M10,15.5 L14,12" stroke="#2a2a2a" stroke-width="2.2" fill="none"/>
</g>
<g transform="translate(104.5,1320.5)">
<path d="M-3,-3 C-4,5 -8,9.5 -13.4,10.5 L-13.4,14.5 C-5,16.5 5,11 9.5,0 Z" fill="#f4f4f4" stroke="#444" stroke-width="1" stroke-linejoin="round"/>
<path d="M-5.5,4 L5,6.5 M-8,8 L1,11.5 M-11,10.5 L-6,14.5" stroke="#333" stroke-width="1.3" fill="none"/>
<circle cx="4.8" cy="-7.6" r="8.2" fill="#f4f4f4" stroke="#666" stroke-width="0.8"/>
<path d="M2.0,-8.6 L-2.3,-10.2 M2.4,-9.4 L-1.2,-12.3 M3.1,-10.1 L0.6,-13.9 M4.0,-10.5 L2.7,-14.9 M4.9,-10.6 L5.1,-15.2 M5.8,-10.4 L7.4,-14.7 M6.6,-10.0 L9.5,-13.6 M7.3,-9.3 L11.1,-11.8 M7.7,-8.4 L12.1,-9.7 " stroke="#777" stroke-width="0.8" fill="none"/>
<path d="M-2.5,-4.5 C1,-1 8,-1.5 12.5,-5.5 M-1.5,-1.5 C3,2 8,1 11,-2" stroke="#555" stroke-width="0.9" fill="none"/>
</g>
<g transform="translate(80.5,1401.5)">
<path d="M-21.7,-13.5 L-19,-10 L19,-10 L20.5,-13 L21.7,-9 C21.7,4 13,13 0,13.7 C-13,13 -21.7,4 -21.7,-9 Z" fill="#f6f6f6" stroke="#444" stroke-width="0.8" stroke-linejoin="round"/>
<path d="M-5,-9 A5,4.75 0 0 0 5,-9" stroke="#333" stroke-width="1.3" stroke-dasharray="1 1.1" fill="none"/>
<path d="M-9,-9 A9,8.549999999999999 0 0 0 9,-9" stroke="#333" stroke-width="1.3" stroke-dasharray="1 1.1" fill="none"/>
<path d="M-13,-9 A13,12.35 0 0 0 13,-9" stroke="#333" stroke-width="1.3" stroke-dasharray="1 1.1" fill="none"/>
<path d="M-17,-9 A17,16.15 0 0 0 17,-9" stroke="#333" stroke-width="1.3" stroke-dasharray="1 1.1" fill="none"/>
<path d="M-20.5,-9 A20.5,19.474999999999998 0 0 0 20.5,-9" stroke="#333" stroke-width="1.3" stroke-dasharray="1 1.1" fill="none"/>
</g>
<g transform="translate(159.0,1413.9)">
<path d="M-15,-22 C-10,-25.3 10,-25.3 15,-22 C22,-15 25,0 26,14 C26.3,20 22,22 18,23 C8,25.3 -8,25.3 -18,23 C-22,22 -26.3,20 -26,14 C-25,0 -22,-15 -15,-22 Z" fill="#f7f7f7" stroke="#333" stroke-width="0.9" stroke-linejoin="round"/>
<path d="M-15,-21.3 Q-21.8,0 -23.2,22.0 M-12.5,-21.5 Q-18.1,0 -19.4,22.2 M-10,-21.7 Q-14.5,0 -15.5,22.5 M-7,-21.9 Q-10.2,0 -10.8,22.8 M-3.5,-22.2 Q-5.1,0 -5.4,23.1 M0,-22.5 Q0.0,0 0.0,23.5 M3.5,-22.2 Q5.1,0 5.4,23.1 M7,-21.9 Q10.2,0 10.8,22.8 M10,-21.7 Q14.5,0 15.5,22.5 M12.5,-21.5 Q18.1,0 19.4,22.2 M15,-21.3 Q21.8,0 23.2,22.0 " stroke="#222" stroke-width="1.15" fill="none"/>
<path d="M-16.5,-20 Q-25,0 -25,15 M-18,-18 Q-23.5,0 -23.5,17 M16.5,-20 Q25,0 25,15 M-25,16 L-17,14 L-17,22.5 M25,16 L18,14.5" stroke="#222" stroke-width="1" fill="none"/>
</g>
<g transform="translate(75.0,1503.4)">
<path d="M-15,-22 C-10,-25.3 10,-25.3 15,-22 C22,-15 25,0 26,14 C26.3,20 22,22 18,23 C8,25.3 -8,25.3 -18,23 C-22,22 -26.3,20 -26,14 C-25,0 -22,-15 -15,-22 Z" fill="#f7f7f7" stroke="#333" stroke-width="0.9" stroke-linejoin="round"/>
<path d="M-15,-21.3 Q-21.8,0 -23.2,22.0 M-12.5,-21.5 Q-18.1,0 -19.4,22.2 M-10,-21.7 Q-14.5,0 -15.5,22.5 M-7,-21.9 Q-10.2,0 -10.8,22.8 M-3.5,-22.2 Q-5.1,0 -5.4,23.1 M0,-22.5 Q0.0,0 0.0,23.5 M3.5,-22.2 Q5.1,0 5.4,23.1 M7,-21.9 Q10.2,0 10.8,22.8 M10,-21.7 Q14.5,0 15.5,22.5 M12.5,-21.5 Q18.1,0 19.4,22.2 M15,-21.3 Q21.8,0 23.2,22.0 " stroke="#222" stroke-width="1.15" fill="none"/>
<path d="M-16.5,-20 Q-25,0 -25,15 M-18,-18 Q-23.5,0 -23.5,17 M16.5,-20 Q25,0 25,15 M-25,16 L-17,14 L-17,22.5 M25,16 L18,14.5" stroke="#222" stroke-width="1" fill="none"/>
</g>
<g transform="translate(150.5,1504.5)">
<path d="M-1.5,-21.5 C2,-21.5 3,-14 15,-9 C23,-4 25.5,7 20,14.5 C13,22 -13,22 -20,14.5 C-25.5,7 -23,-4 -15,-9 C-5,-13 -4,-21.5 -1.5,-21.5 Z" fill="#f7f7f7" stroke="#444" stroke-width="0.8" stroke-linejoin="round"/>
<path d="M-6.1,-5.9 A5.2,5.0 0 0 0 4.1,-5.9" stroke="#222" stroke-width="1.7" stroke-dasharray="1.5 1.5" fill="none"/>
<path d="M-10.7,-4.9 A10.0,9.5 0 0 0 8.7,-4.9" stroke="#222" stroke-width="1.7" stroke-dasharray="1.5 1.5" fill="none"/>
<path d="M-15.3,-3.9 A14.7,14.0 0 0 0 13.3,-3.9" stroke="#222" stroke-width="1.7" stroke-dasharray="1 1.2" fill="none"/>
<path d="M-19.9,-2.9 A19.4,18.5 0 0 0 17.9,-2.9" stroke="#222" stroke-width="1.7" stroke-dasharray="1 1.2" fill="none"/>
<path d="M-23.9,-2.0 A23.6,22.5 0 0 0 21.9,-2.0" stroke="#222" stroke-width="1.7" stroke-dasharray="1 1.2" fill="none"/>
</g>
<g transform="translate(154.0,1647.0)">
<path d="M-3,-25.5 Q0.2,-27.5 3.5,-25 L24.5,-7 Q26.5,-4.5 25.3,-2 L15.8,22 Q14.6,24 12,24 L-13,25 Q-15.8,25 -17,22.5 L-25.5,-0.5 Q-26.5,-3.2 -24.3,-5 Z" fill="#fdfdfd" stroke="#666" stroke-width="0.9" stroke-linejoin="round"/>
<path d="M-9,-15 C-7,-8 3,-7 6.5,-15 M-17.5,-5 C-15,5 -11,9 -7,10 L10,10.5 L21,-2.5 M-4.5,-8 L-12.5,17 M-2.5,-8.5 L-9,24 M0,-12 L-1,24.5 M3,-14 L5,24 M4.5,-8 L9,23" stroke="#333" stroke-width="1" fill="none"/>
</g>
<g transform="translate(74.5,1786.5)">
<path d="M-21.7,-13.5 L-19,-10 L19,-10 L20.5,-13 L21.7,-9 C21.7,4 13,13 0,13.7 C-13,13 -21.7,4 -21.7,-9 Z" fill="#f6f6f6" stroke="#444" stroke-width="0.8" stroke-linejoin="round"/>
<path d="M-5,-9 A5,4.75 0 0 0 5,-9" stroke="#333" stroke-width="1.3" stroke-dasharray="1 1.1" fill="none"/>
<path d="M-9,-9 A9,8.549999999999999 0 0 0 9,-9" stroke="#333" stroke-width="1.3" stroke-dasharray="1 1.1" fill="none"/>
<path d="M-13,-9 A13,12.35 0 0 0 13,-9" stroke="#333" stroke-width="1.3" stroke-dasharray="1 1.1" fill="none"/>
<path d="M-17,-9 A17,16.15 0 0 0 17,-9" stroke="#333" stroke-width="1.3" stroke-dasharray="1 1.1" fill="none"/>
<path d="M-20.5,-9 A20.5,19.474999999999998 0 0 0 20.5,-9" stroke="#333" stroke-width="1.3" stroke-dasharray="1 1.1" fill="none"/>
</g>
<g transform="translate(154.0,1783.0)">
<path d="M-15,-22 C-10,-25.3 10,-25.3 15,-22 C22,-15 25,0 26,14 C26.3,20 22,22 18,23 C8,25.3 -8,25.3 -18,23 C-22,22 -26.3,20 -26,14 C-25,0 -22,-15 -15,-22 Z" fill="#f7f7f7" stroke="#333" stroke-width="0.9" stroke-linejoin="round"/>
<path d="M-15,-21.3 Q-21.8,0 -23.2,22.0 M-12.5,-21.5 Q-18.1,0 -19.4,22.2 M-10,-21.7 Q-14.5,0 -15.5,22.5 M-7,-21.9 Q-10.2,0 -10.8,22.8 M-3.5,-22.2 Q-5.1,0 -5.4,23.1 M0,-22.5 Q0.0,0 0.0,23.5 M3.5,-22.2 Q5.1,0 5.4,23.1 M7,-21.9 Q10.2,0 10.8,22.8 M10,-21.7 Q14.5,0 15.5,22.5 M12.5,-21.5 Q18.1,0 19.4,22.2 M15,-21.3 Q21.8,0 23.2,22.0 " stroke="#222" stroke-width="1.15" fill="none"/>
<path d="M-16.5,-20 Q-25,0 -25,15 M-18,-18 Q-23.5,0 -23.5,17 M16.5,-20 Q25,0 25,15 M-25,16 L-17,14 L-17,22.5 M25,16 L18,14.5" stroke="#222" stroke-width="1" fill="none"/>
</g>
<g transform="translate(75.0,1894.5)">
<path d="M-15,-22 C-10,-25.3 10,-25.3 15,-22 C22,-15 25,0 26,14 C26.3,20 22,22 18,23 C8,25.3 -8,25.3 -18,23 C-22,22 -26.3,20 -26,14 C-25,0 -22,-15 -15,-22 Z" fill="#f7f7f7" stroke="#333" stroke-width="0.9" stroke-linejoin="round"/>
<path d="M-15,-21.3 Q-21.8,0 -23.2,22.0 M-12.5,-21.5 Q-18.1,0 -19.4,22.2 M-10,-21.7 Q-14.5,0 -15.5,22.5 M-7,-21.9 Q-10.2,0 -10.8,22.8 M-3.5,-22.2 Q-5.1,0 -5.4,23.1 M0,-22.5 Q0.0,0 0.0,23.5 M3.5,-22.2 Q5.1,0 5.4,23.1 M7,-21.9 Q10.2,0 10.8,22.8 M10,-21.7 Q14.5,0 15.5,22.5 M12.5,-21.5 Q18.1,0 19.4,22.2 M15,-21.3 Q21.8,0 23.2,22.0 " stroke="#222" stroke-width="1.15" fill="none"/>
<path d="M-16.5,-20 Q-25,0 -25,15 M-18,-18 Q-23.5,0 -23.5,17 M16.5,-20 Q25,0 25,15 M-25,16 L-17,14 L-17,22.5 M25,16 L18,14.5" stroke="#222" stroke-width="1" fill="none"/>
</g>
<g transform="translate(150.0,1897.5)">
<path d="M-1.5,-21.5 C2,-21.5 3,-14 15,-9 C23,-4 25.5,7 20,14.5 C13,22 -13,22 -20,14.5 C-25.5,7 -23,-4 -15,-9 C-5,-13 -4,-21.5 -1.5,-21.5 Z" fill="#f7f7f7" stroke="#444" stroke-width="0.8" stroke-linejoin="round"/>
<path d="M-6.1,-5.9 A5.2,5.0 0 0 0 4.1,-5.9" stroke="#222" stroke-width="1.7" stroke-dasharray="1.5 1.5" fill="none"/>
<path d="M-10.7,-4.9 A10.0,9.5 0 0 0 8.7,-4.9" stroke="#222" stroke-width="1.7" stroke-dasharray="1.5 1.5" fill="none"/>
<path d="M-15.3,-3.9 A14.7,14.0 0 0 0 13.3,-3.9" stroke="#222" stroke-width="1.7" stroke-dasharray="1 1.2" fill="none"/>
<path d="M-19.9,-2.9 A19.4,18.5 0 0 0 17.9,-2.9" stroke="#222" stroke-width="1.7" stroke-dasharray="1 1.2" fill="none"/>
<path d="M-23.9,-2.0 A23.6,22.5 0 0 0 21.9,-2.0" stroke="#222" stroke-width="1.7" stroke-dasharray="1 1.2" fill="none"/>
</g>
<g transform="translate(55.5,2058.5) scale(0.720)">
<polygon points="-2.8,-25.2 -3.8,-23.6 -4.9,-22.1 -6.0,-20.6 -7.0,-19.0 -9.8,-18.4 -12.5,-17.8 -14.5,-16.3 -18.0,-16.5 -20.0,-15.0 -24.2,-15.2 -25.9,-13.8 -30.4,-13.8 -29.6,-10.8 -32.0,-8.9 -31.2,-6.1 -33.6,-4.0 -31.9,-1.9 -33.6,-0.1 -31.9,1.8 -33.6,3.8 -31.1,5.6 -31.8,7.9 -29.4,9.5 -30.0,12.0 -27.1,13.0 -27.1,15.4 -24.4,16.3 -24.2,18.9 -20.1,18.9 -18.1,20.9 -14.3,20.9 -12.0,23.0 -8.5,22.2 -6.0,23.8 -2.8,22.9 0.0,24.5 1.7,23.4 3.6,24.9 5.2,23.8 7.3,25.2 9.5,23.2 12.6,23.6 14.6,21.7 18.0,22.0 19.3,19.6 22.7,19.2 23.8,16.9 27.4,16.4 27.1,13.6 29.7,12.2 29.3,9.6 32.0,8.0 30.8,5.1 32.9,2.8 31.6,0.1 33.7,-2.5 31.6,-4.2 32.9,-6.2 30.8,-7.7 32.0,-10.0 29.3,-10.7 29.7,-12.6 27.1,-13.1 27.4,-15.1 23.3,-14.8 21.7,-16.1 17.9,-15.7 16.0,-17.0 13.1,-16.9 11.7,-18.5 9.5,-19.2 7.3,-20.0 6.0,-21.0 4.7,-22.0 3.3,-23.0 2.0,-24.0 0.8,-24.3 -0.4,-24.6 -1.6,-24.9" fill="#f2f2f2" stroke="#1e1e1e" stroke-width="1.2" stroke-linejoin="round"/>
<path d="M0.5,-17.0 L4.0,-16.9 M0.2,-15.6 L3.3,-14.0 M-0.6,-14.5 L1.5,-11.6 M-1.8,-13.9 L-1.1,-10.3 M-3.2,-13.9 L-3.9,-10.3 M-4.4,-14.5 L-6.5,-11.6 M-5.2,-15.6 L-8.3,-14.0 M-5.5,-17.0 L-9.0,-16.9 M-5.2,-18.3 L-8.4,-19.9 M6.0,-17.7 L10.0,-18.1 M5.9,-15.5 L9.8,-14.8 M5.2,-13.3 L8.9,-11.6 M4.1,-11.4 L7.2,-8.7 M2.5,-9.8 L4.9,-6.4 M0.7,-8.7 L2.2,-4.8 M-1.4,-8.1 L-0.9,-4.0 M-3.6,-8.1 L-4.1,-4.0 M-5.7,-8.7 L-7.2,-4.8 M-7.5,-9.8 L-9.9,-6.4 M-9.1,-11.4 L-12.2,-8.7 M-10.2,-13.3 L-13.9,-11.6 M-10.9,-15.5 L-14.8,-14.8 M-11.0,-17.7 L-15.0,-18.1 M-10.5,-19.9 L-14.3,-21.3 M12.0,-17.6 L16.5,-17.8 M11.9,-15.0 L16.3,-14.4 M11.4,-12.5 L15.7,-11.1 M10.4,-10.1 L14.5,-8.0 M9.1,-7.9 L12.8,-5.1 M7.5,-6.0 L10.6,-2.6 M5.6,-4.4 L8.1,-0.5 M3.5,-3.1 L5.3,1.2 M1.1,-2.3 L2.3,2.3 M-1.3,-1.8 L-0.9,2.9 M-3.7,-1.8 L-4.1,2.9 M-6.1,-2.3 L-7.3,2.3 M-8.5,-3.1 L-10.3,1.2 M-10.6,-4.4 L-13.1,-0.5 M-12.5,-6.0 L-15.6,-2.6 M-14.1,-7.9 L-17.8,-5.1 M-15.4,-10.1 L-19.5,-8.0 M-16.4,-12.5 L-20.7,-11.1 M-16.9,-15.0 L-21.3,-14.4 M-17.0,-17.6 L-21.5,-17.8 M18.5,-16.2 L23.5,-16.0 M18.2,-13.5 L23.2,-12.7 M17.7,-10.9 L22.5,-9.4 M16.8,-8.3 L21.4,-6.3 M15.6,-5.9 L20.0,-3.3 M14.2,-3.7 L18.2,-0.5 M12.5,-1.6 L16.1,2.1 M10.6,0.2 L13.8,4.3 M8.5,1.8 L11.1,6.2 M6.2,3.0 L8.3,7.8 M3.8,4.0 L5.4,9.0 M1.3,4.7 L2.3,9.8 M-1.2,5.0 L-0.9,10.2 M-3.8,5.0 L-4.1,10.2 M-6.3,4.7 L-7.3,9.8 M-8.8,4.0 L-10.4,9.0 M-11.2,3.0 L-13.3,7.8 M-13.5,1.8 L-16.1,6.2 M-15.6,0.2 L-18.8,4.3 M-17.5,-1.6 L-21.1,2.1 M-19.2,-3.7 L-23.2,-0.5 M-20.6,-5.9 L-25.0,-3.3 M-21.8,-8.3 L-26.4,-6.3 M-22.7,-10.9 L-27.5,-9.4 M24.5,-9.1 L29.3,-7.7 M23.6,-6.4 L28.3,-4.5 M22.5,-3.8 L27.0,-1.5 M21.2,-1.4 L25.5,1.4 M19.7,0.9 L23.6,4.2 M17.9,3.1 L21.6,6.7 M16.0,5.1 L19.3,9.0 M13.9,6.8 L16.8,11.1 M11.6,8.4 L14.2,12.9 M9.2,9.7 L11.3,14.5 M6.8,10.7 L8.4,15.7 M4.2,11.6 L5.4,16.7 M1.5,12.1 L2.2,17.3 M-1.2,12.4 L-0.9,17.6 M-3.8,12.4 L-4.1,17.6 M-6.5,12.1 L-7.2,17.3 M-9.2,11.6 L-10.4,16.7 M-11.8,10.7 L-13.4,15.7 M-14.2,9.7 L-16.3,14.5 M-16.6,8.4 L-19.2,12.9 M-18.9,6.8 L-21.8,11.1 M-21.0,5.1 L-24.3,9.0 M-22.9,3.1 L-26.6,6.7 M-24.7,0.9 L-28.6,4.2 M-26.2,-1.4 L-30.5,1.4 M-27.5,-3.8 L-32.0,-1.5 M29.0,-0.9 L32.6,0.9 M27.6,1.8 L31.0,3.9 M26.0,4.3 L29.3,6.7 M24.2,6.7 L27.3,9.4 M22.3,9.0 L25.1,11.9 M20.1,11.0 L22.7,14.2 M17.9,12.9 L20.2,16.3 M15.4,14.6 L17.5,18.2 M12.9,16.0 L14.7,19.8 M10.2,17.2 L11.7,21.1 M7.5,18.2 L8.6,22.2 M4.7,19.0 L5.5,23.1 M1.8,19.5 L2.3,23.6 M-1.1,19.7 L-0.9,23.9 M-3.9,19.7 L-4.1,23.9 M-6.8,19.5 L-7.3,23.6 M-9.7,19.0 L-10.5,23.1 M-12.5,18.2 L-13.6,22.2 M-15.2,17.2 L-16.7,21.1 M-17.9,16.0 L-19.7,19.8 M-20.4,14.6 L-22.5,18.2 M-22.9,12.9 L-25.2,16.3 " stroke="#1e1e1e" stroke-width="1.2" fill="none"/>
<path d="M-12,-16 C-8,-12 3,-12 8,-17 M-20,-13 C-12,-4 8,-4 17,-14 M-27,-8 C-16,6 12,6 25,-9 M-31,0 C-20,15 18,15 31,0" stroke="#1e1e1e" stroke-width="0.7" stroke-dasharray="2 2" fill="none"/>
</g>
<g transform="translate(128.3,2045.4)">
<path d="M-17.3,-11 C-10,-12.5 10,-12.5 17.3,-11 C17.5,-2 12,9 1,11.6 C-10,10.5 -17.5,-2 -17.3,-11 Z" fill="#f4f4f4" stroke="#1e1e1e" stroke-width="1.3" stroke-linejoin="round"/>
<path d="M3.0,-10.3 L17.3,-8.3 M2.9,-10.0 L16.5,-4.4 M2.6,-9.7 L15.0,-0.7 M2.3,-9.5 L12.9,2.7 M1.9,-9.3 L10.3,5.7 M1.5,-9.1 L7.3,8.2 M1.0,-9.0 L4.0,10.0 M0.5,-9.0 L0.5,11.0 M-0.0,-9.0 L-3.0,10.0 M-0.5,-9.1 L-6.3,8.2 M-0.9,-9.3 L-9.3,5.7 M-1.3,-9.5 L-11.9,2.7 M-1.6,-9.7 L-14.0,-0.7 M-1.9,-10.0 L-15.5,-4.4 M-2.0,-10.3 L-16.3,-8.3 " stroke="#1e1e1e" stroke-width="1.2" fill="none"/>
<path d="M-9,-11.5 C-4,-8 5,-8 10,-11.5 Z" fill="#333"/>
<path d="M0,-10 L-2.5,10.5 L3.5,11 Z" fill="#f8f8f8" stroke="#1e1e1e" stroke-width="0.6"/>
</g>
<g transform="translate(109.2,2077.6)">
<path d="M-11,6 C-12.2,-2 -8,-9.3 -3.2,-9.8 L0,-7.6 L3.2,-9.8 C8,-9.3 12.2,-2 11,6 C8,7.6 4,7.4 2.2,8 L0,10.3 L-2.2,8 C-4,7.4 -8,7.6 -11,6 Z" fill="#fbfbfb" stroke="#777" stroke-width="0.9" stroke-linejoin="round"/>
<path d="M-7,-5 C-5,-7 -3,-7.5 -2,-7 M3,-7 C5,-6 6.5,-4 7,-2" stroke="#999" stroke-width="0.7" fill="none"/>
</g>
<g transform="translate(140.0,2077.6)">
<path d="M-11,6 C-12.2,-2 -8,-9.3 -3.2,-9.8 L0,-7.6 L3.2,-9.8 C8,-9.3 12.2,-2 11,6 C8,7.6 4,7.4 2.2,8 L0,10.3 L-2.2,8 C-4,7.4 -8,7.6 -11,6 Z" fill="#fbfbfb" stroke="#777" stroke-width="0.9" stroke-linejoin="round"/>
<path d="M0,-7 L0.3,4" stroke="#999" stroke-width="0.7" stroke-dasharray="2 1.5" fill="none"/>
</g>
<g transform="translate(131.0,2143.0)">
<path d="M-3,-3 C-4,5 -8,9.5 -13.4,10.5 L-13.4,14.5 C-5,16.5 5,11 9.5,0 Z" fill="#f4f4f4" stroke="#444" stroke-width="1" stroke-linejoin="round"/>
<path d="M-5.5,4 L5,6.5 M-8,8 L1,11.5 M-11,10.5 L-6,14.5" stroke="#333" stroke-width="1.3" fill="none"/>
<circle cx="4.8" cy="-7.6" r="8.2" fill="#f4f4f4" stroke="#666" stroke-width="0.8"/>
<path d="M2.0,-8.6 L-2.3,-10.2 M2.4,-9.4 L-1.2,-12.3 M3.1,-10.1 L0.6,-13.9 M4.0,-10.5 L2.7,-14.9 M4.9,-10.6 L5.1,-15.2 M5.8,-10.4 L7.4,-14.7 M6.6,-10.0 L9.5,-13.6 M7.3,-9.3 L11.1,-11.8 M7.7,-8.4 L12.1,-9.7 " stroke="#777" stroke-width="0.8" fill="none"/>
<path d="M-2.5,-4.5 C1,-1 8,-1.5 12.5,-5.5 M-1.5,-1.5 C3,2 8,1 11,-2" stroke="#555" stroke-width="0.9" fill="none"/>
</g>
<g transform="translate(146.6,2219.7) scale(0.910)">
<path d="M0,-21.4 C4,-19.5 8,-17.8 14,-17.5 L31,-17 C34.5,-14 36.2,-10 36,-7 C36.5,-1 35,4 33,7.5 C31,12 28,15 24,17.5 C18,21 12,21.6 8.5,20.7 C6,18 3,15 0,14.5 C-3,15 -5,15 -7.8,16 C-12,18.5 -16,20 -19,19.5 C-22,18.5 -24,17 -25.4,15.7 C-29,13 -32,9 -33,5.7 C-35.5,1 -36.4,-4 -36,-8 C-35,-12 -32,-15.5 -29,-17 L-14,-17.5 C-8,-17.8 -4,-19.5 0,-21.4 Z" fill="#f4f4f4" stroke="#1e1e1e" stroke-width="1.3" stroke-linejoin="round"/>
<path d="M3.0,-17.5 Q22.2,-18.8 35.5,-12 M-3.0,-17.5 Q-22.2,-18.8 -35.5,-13.2 M3.1,-17.3 Q22.1,-14.7 36,-5 M-3.1,-17.3 Q-22.1,-14.7 -36,-6.2 M3.3,-17.1 Q21.2,-10.6 35,2 M-3.3,-17.1 Q-21.2,-10.6 -35,0.8 M3.5,-16.9 Q19.6,-6.7 32.5,8.5 M-3.5,-16.9 Q-19.6,-6.7 -32.5,7.3 M3.6,-16.7 Q17.5,-3.8 29,13 M-3.6,-16.7 Q-17.5,-3.8 -29,11.8 M3.8,-16.5 Q15.1,-1.5 25,16.5 M-3.8,-16.5 Q-15.1,-1.5 -25,15.3 M3.9,-16.3 Q12.5,0.5 20.5,19.3 M-3.9,-16.3 Q-12.5,0.5 -20.5,18.1 M4.0,-16.1 Q9.9,1.8 16,20.8 M-4.0,-16.1 Q-9.9,1.8 -16,19.6 M4.2,-15.9 Q7.5,2.6 12,21.2 M-4.2,-15.9 Q-7.5,2.6 -12,20.0 M4.3,-15.7 Q5.6,2.9 9,20.5 M-4.3,-15.7 Q-5.6,2.9 -9,19.3 " stroke="#1e1e1e" stroke-width="1.2" fill="none"/>
<path d="M0,-21 L-6,15.5 M0,-21 L6.5,18" stroke="#1e1e1e" stroke-width="0.9" fill="none"/>
</g>
<g transform="translate(110.6,2300.4) scale(0.910)">
<path d="M0,-21.4 C4,-19.5 8,-17.8 14,-17.5 L31,-17 C34.5,-14 36.2,-10 36,-7 C36.5,-1 35,4 33,7.5 C31,12 28,15 24,17.5 C18,21 12,21.6 8.5,20.7 C6,18 3,15 0,14.5 C-3,15 -5,15 -7.8,16 C-12,18.5 -16,20 -19,19.5 C-22,18.5 -24,17 -25.4,15.7 C-29,13 -32,9 -33,5.7 C-35.5,1 -36.4,-4 -36,-8 C-35,-12 -32,-15.5 -29,-17 L-14,-17.5 C-8,-17.8 -4,-19.5 0,-21.4 Z" fill="#f4f4f4" stroke="#1e1e1e" stroke-width="1.3" stroke-linejoin="round"/>
<path d="M3.0,-17.5 Q22.2,-18.8 35.5,-12 M-3.0,-17.5 Q-22.2,-18.8 -35.5,-13.2 M3.1,-17.3 Q22.1,-14.7 36,-5 M-3.1,-17.3 Q-22.1,-14.7 -36,-6.2 M3.3,-17.1 Q21.2,-10.6 35,2 M-3.3,-17.1 Q-21.2,-10.6 -35,0.8 M3.5,-16.9 Q19.6,-6.7 32.5,8.5 M-3.5,-16.9 Q-19.6,-6.7 -32.5,7.3 M3.6,-16.7 Q17.5,-3.8 29,13 M-3.6,-16.7 Q-17.5,-3.8 -29,11.8 M3.8,-16.5 Q15.1,-1.5 25,16.5 M-3.8,-16.5 Q-15.1,-1.5 -25,15.3 M3.9,-16.3 Q12.5,0.5 20.5,19.3 M-3.9,-16.3 Q-12.5,0.5 -20.5,18.1 M4.0,-16.1 Q9.9,1.8 16,20.8 M-4.0,-16.1 Q-9.9,1.8 -16,19.6 M4.2,-15.9 Q7.5,2.6 12,21.2 M-4.2,-15.9 Q-7.5,2.6 -12,20.0 M4.3,-15.7 Q5.6,2.9 9,20.5 M-4.3,-15.7 Q-5.6,2.9 -9,19.3 " stroke="#1e1e1e" stroke-width="1.2" fill="none"/>
<path d="M0,-21 L-6,15.5 M0,-21 L6.5,18" stroke="#1e1e1e" stroke-width="0.9" fill="none"/>
</g>
<g transform="translate(62.2,2361.2)">
<polygon points="-2.8,-25.2 -3.8,-23.6 -4.9,-22.1 -6.0,-20.6 -7.0,-19.0 -9.8,-18.4 -12.5,-17.8 -14.5,-16.3 -18.0,-16.5 -20.0,-15.0 -24.2,-15.2 -25.9,-13.8 -30.4,-13.8 -29.6,-10.8 -32.0,-8.9 -31.2,-6.1 -33.6,-4.0 -31.9,-1.9 -33.6,-0.1 -31.9,1.8 -33.6,3.8 -31.1,5.6 -31.8,7.9 -29.4,9.5 -30.0,12.0 -27.1,13.0 -27.1,15.4 -24.4,16.3 -24.2,18.9 -20.1,18.9 -18.1,20.9 -14.3,20.9 -12.0,23.0 -8.5,22.2 -6.0,23.8 -2.8,22.9 0.0,24.5 1.7,23.4 3.6,24.9 5.2,23.8 7.3,25.2 9.5,23.2 12.6,23.6 14.6,21.7 18.0,22.0 19.3,19.6 22.7,19.2 23.8,16.9 27.4,16.4 27.1,13.6 29.7,12.2 29.3,9.6 32.0,8.0 30.8,5.1 32.9,2.8 31.6,0.1 33.7,-2.5 31.6,-4.2 32.9,-6.2 30.8,-7.7 32.0,-10.0 29.3,-10.7 29.7,-12.6 27.1,-13.1 27.4,-15.1 23.3,-14.8 21.7,-16.1 17.9,-15.7 16.0,-17.0 13.1,-16.9 11.7,-18.5 9.5,-19.2 7.3,-20.0 6.0,-21.0 4.7,-22.0 3.3,-23.0 2.0,-24.0 0.8,-24.3 -0.4,-24.6 -1.6,-24.9" fill="#f2f2f2" stroke="#1e1e1e" stroke-width="1.2" stroke-linejoin="round"/>
<path d="M0.5,-17.0 L4.0,-16.9 M0.2,-15.6 L3.3,-14.0 M-0.6,-14.5 L1.5,-11.6 M-1.8,-13.9 L-1.1,-10.3 M-3.2,-13.9 L-3.9,-10.3 M-4.4,-14.5 L-6.5,-11.6 M-5.2,-15.6 L-8.3,-14.0 M-5.5,-17.0 L-9.0,-16.9 M-5.2,-18.3 L-8.4,-19.9 M6.0,-17.7 L10.0,-18.1 M5.9,-15.5 L9.8,-14.8 M5.2,-13.3 L8.9,-11.6 M4.1,-11.4 L7.2,-8.7 M2.5,-9.8 L4.9,-6.4 M0.7,-8.7 L2.2,-4.8 M-1.4,-8.1 L-0.9,-4.0 M-3.6,-8.1 L-4.1,-4.0 M-5.7,-8.7 L-7.2,-4.8 M-7.5,-9.8 L-9.9,-6.4 M-9.1,-11.4 L-12.2,-8.7 M-10.2,-13.3 L-13.9,-11.6 M-10.9,-15.5 L-14.8,-14.8 M-11.0,-17.7 L-15.0,-18.1 M-10.5,-19.9 L-14.3,-21.3 M12.0,-17.6 L16.5,-17.8 M11.9,-15.0 L16.3,-14.4 M11.4,-12.5 L15.7,-11.1 M10.4,-10.1 L14.5,-8.0 M9.1,-7.9 L12.8,-5.1 M7.5,-6.0 L10.6,-2.6 M5.6,-4.4 L8.1,-0.5 M3.5,-3.1 L5.3,1.2 M1.1,-2.3 L2.3,2.3 M-1.3,-1.8 L-0.9,2.9 M-3.7,-1.8 L-4.1,2.9 M-6.1,-2.3 L-7.3,2.3 M-8.5,-3.1 L-10.3,1.2 M-10.6,-4.4 L-13.1,-0.5 M-12.5,-6.0 L-15.6,-2.6 M-14.1,-7.9 L-17.8,-5.1 M-15.4,-10.1 L-19.5,-8.0 M-16.4,-12.5 L-20.7,-11.1 M-16.9,-15.0 L-21.3,-14.4 M-17.0,-17.6 L-21.5,-17.8 M18.5,-16.2 L23.5,-16.0 M18.2,-13.5 L23.2,-12.7 M17.7,-10.9 L22.5,-9.4 M16.8,-8.3 L21.4,-6.3 M15.6,-5.9 L20.0,-3.3 M14.2,-3.7 L18.2,-0.5 M12.5,-1.6 L16.1,2.1 M10.6,0.2 L13.8,4.3 M8.5,1.8 L11.1,6.2 M6.2,3.0 L8.3,7.8 M3.8,4.0 L5.4,9.0 M1.3,4.7 L2.3,9.8 M-1.2,5.0 L-0.9,10.2 M-3.8,5.0 L-4.1,10.2 M-6.3,4.7 L-7.3,9.8 M-8.8,4.0 L-10.4,9.0 M-11.2,3.0 L-13.3,7.8 M-13.5,1.8 L-16.1,6.2 M-15.6,0.2 L-18.8,4.3 M-17.5,-1.6 L-21.1,2.1 M-19.2,-3.7 L-23.2,-0.5 M-20.6,-5.9 L-25.0,-3.3 M-21.8,-8.3 L-26.4,-6.3 M-22.7,-10.9 L-27.5,-9.4 M24.5,-9.1 L29.3,-7.7 M23.6,-6.4 L28.3,-4.5 M22.5,-3.8 L27.0,-1.5 M21.2,-1.4 L25.5,1.4 M19.7,0.9 L23.6,4.2 M17.9,3.1 L21.6,6.7 M16.0,5.1 L19.3,9.0 M13.9,6.8 L16.8,11.1 M11.6,8.4 L14.2,12.9 M9.2,9.7 L11.3,14.5 M6.8,10.7 L8.4,15.7 M4.2,11.6 L5.4,16.7 M1.5,12.1 L2.2,17.3 M-1.2,12.4 L-0.9,17.6 M-3.8,12.4 L-4.1,17.6 M-6.5,12.1 L-7.2,17.3 M-9.2,11.6 L-10.4,16.7 M-11.8,10.7 L-13.4,15.7 M-14.2,9.7 L-16.3,14.5 M-16.6,8.4 L-19.2,12.9 M-18.9,6.8 L-21.8,11.1 M-21.0,5.1 L-24.3,9.0 M-22.9,3.1 L-26.6,6.7 M-24.7,0.9 L-28.6,4.2 M-26.2,-1.4 L-30.5,1.4 M-27.5,-3.8 L-32.0,-1.5 M29.0,-0.9 L32.6,0.9 M27.6,1.8 L31.0,3.9 M26.0,4.3 L29.3,6.7 M24.2,6.7 L27.3,9.4 M22.3,9.0 L25.1,11.9 M20.1,11.0 L22.7,14.2 M17.9,12.9 L20.2,16.3 M15.4,14.6 L17.5,18.2 M12.9,16.0 L14.7,19.8 M10.2,17.2 L11.7,21.1 M7.5,18.2 L8.6,22.2 M4.7,19.0 L5.5,23.1 M1.8,19.5 L2.3,23.6 M-1.1,19.7 L-0.9,23.9 M-3.9,19.7 L-4.1,23.9 M-6.8,19.5 L-7.3,23.6 M-9.7,19.0 L-10.5,23.1 M-12.5,18.2 L-13.6,22.2 M-15.2,17.2 L-16.7,21.1 M-17.9,16.0 L-19.7,19.8 M-20.4,14.6 L-22.5,18.2 M-22.9,12.9 L-25.2,16.3 " stroke="#1e1e1e" stroke-width="1.2" fill="none"/>
<path d="M-12,-16 C-8,-12 3,-12 8,-17 M-20,-13 C-12,-4 8,-4 17,-14 M-27,-8 C-16,6 12,6 25,-9 M-31,0 C-20,15 18,15 31,0" stroke="#1e1e1e" stroke-width="0.7" stroke-dasharray="2 2" fill="none"/>
</g>
<g transform="translate(145.8,2365.5) scale(0.910)">
<path d="M0,-21.4 C4,-19.5 8,-17.8 14,-17.5 L31,-17 C34.5,-14 36.2,-10 36,-7 C36.5,-1 35,4 33,7.5 C31,12 28,15 24,17.5 C18,21 12,21.6 8.5,20.7 C6,18 3,15 0,14.5 C-3,15 -5,15 -7.8,16 C-12,18.5 -16,20 -19,19.5 C-22,18.5 -24,17 -25.4,15.7 C-29,13 -32,9 -33,5.7 C-35.5,1 -36.4,-4 -36,-8 C-35,-12 -32,-15.5 -29,-17 L-14,-17.5 C-8,-17.8 -4,-19.5 0,-21.4 Z" fill="#f4f4f4" stroke="#1e1e1e" stroke-width="1.3" stroke-linejoin="round"/>
<path d="M3.0,-17.5 Q22.2,-18.8 35.5,-12 M-3.0,-17.5 Q-22.2,-18.8 -35.5,-13.2 M3.1,-17.3 Q22.1,-14.7 36,-5 M-3.1,-17.3 Q-22.1,-14.7 -36,-6.2 M3.3,-17.1 Q21.2,-10.6 35,2 M-3.3,-17.1 Q-21.2,-10.6 -35,0.8 M3.5,-16.9 Q19.6,-6.7 32.5,8.5 M-3.5,-16.9 Q-19.6,-6.7 -32.5,7.3 M3.6,-16.7 Q17.5,-3.8 29,13 M-3.6,-16.7 Q-17.5,-3.8 -29,11.8 M3.8,-16.5 Q15.1,-1.5 25,16.5 M-3.8,-16.5 Q-15.1,-1.5 -25,15.3 M3.9,-16.3 Q12.5,0.5 20.5,19.3 M-3.9,-16.3 Q-12.5,0.5 -20.5,18.1 M4.0,-16.1 Q9.9,1.8 16,20.8 M-4.0,-16.1 Q-9.9,1.8 -16,19.6 M4.2,-15.9 Q7.5,2.6 12,21.2 M-4.2,-15.9 Q-7.5,2.6 -12,20.0 M4.3,-15.7 Q5.6,2.9 9,20.5 M-4.3,-15.7 Q-5.6,2.9 -9,19.3 " stroke="#1e1e1e" stroke-width="1.2" fill="none"/>
<path d="M0,-21 L-6,15.5 M0,-21 L6.5,18" stroke="#1e1e1e" stroke-width="0.9" fill="none"/>
</g>
<g transform="translate(77.5,2405.5)">
<polygon points="-51.0,-11.0 -20.0,-11.5 -8.0,-13.0 0.5,-16.6 9.0,-13.0 22.0,-10.5 51.0,-9.7 47.2,-6.2 46.0,-4.2 41.2,-2.7 40.0,-0.7 35.2,0.8 34.0,2.8 29.2,4.3 28.0,6.3 23.2,7.8 22.0,9.8 17.2,10.3 16.0,12.3 11.2,12.8 10.0,14.8 6.2,15.3 5.0,17.3 0.0,14.8 -1.2,12.8 -5.0,16.8 -6.2,14.8 -10.0,13.8 -11.2,11.8 -16.0,11.3 -17.2,9.3 -22.0,8.3 -23.2,6.3 -28.0,5.3 -29.2,3.3 -34.0,1.3 -35.2,-0.7 -40.0,-2.2 -41.2,-4.2 -46.0,-6.2 -47.2,-8.2" fill="#f1f1f1" stroke="#333" stroke-width="0.9" stroke-linejoin="round"/>
<path d="M7.8,-13.8 L46,-5 M6.8,-13.3 L40,-1.5 M5.9,-12.7 L34,2 M4.9,-12.1 L28,5.5 M3.9,-11.6 L22,9 M3.0,-11.2 L16,11.5 M2.0,-10.8 L10,14 M1.2,-10.4 L5,16.5 M0.4,-10.8 L0,14 M-0.4,-10.5 L-5,16 M-1.2,-10.9 L-10,13 M-2.1,-11.3 L-16,10.5 M-3.1,-11.8 L-22,7.5 M-4.1,-12.3 L-28,4.5 M-5.0,-12.9 L-34,0.5 M-6.0,-13.5 L-40,-3 M-6.9,-14.1 L-46,-7 M8.3,-14.3 L49,-8 M-7.4,-14.5 L-49,-9 " stroke="#444" stroke-width="0.8" stroke-dasharray="2.2 1.6" fill="none"/>
</g>
<g transform="translate(155.5,2362.8)">
<path d="M35.8,11.9 C36.5,22.0 32.7,29.6 25.2,35.8 C18.9,37.1 11.3,35.8 3.8,40.9 C0.0,44.7 -0.6,48.4 1.3,50.3 C3.1,48.4 5.7,48.4 7.5,50.3 C12.6,56.0 23.9,60.4 35.2,58.5 C47.8,56.6 59.1,49.7 65.4,42.1 C70.4,35.8 74.8,28.3 75.5,23.3 L78.6,11.9 Z" fill="#f4f4f4" stroke="#1e1e1e" stroke-width="1.3" stroke-linejoin="round"/>
<path d="M35.8,11.9 C35.2,4.4 47.8,-0.6 59.1,0.6 C70.4,1.3 79.2,5.7 78.6,11.9 C78.0,18.2 69.2,23.3 57.9,24.5 C46.5,25.2 36.5,19.5 35.8,11.9 Z" fill="#f6f6f6" stroke="#1e1e1e" stroke-width="1"/>
<path d="M41.5,11.9 C47.8,8.2 62.9,7.5 73.0,11.3 C65.4,17.0 50.3,17.6 41.5,11.9 Z" fill="#c9c9c9" stroke="#1e1e1e" stroke-width="0.7"/>
<path d="M48.7,11.0 L39.0,9.9 M49.5,10.2 L40.7,7.8 M50.8,9.5 L43.4,5.9 M52.4,9.0 L47.0,4.4 M54.4,8.6 L51.1,3.4 M56.5,8.4 L55.6,2.9 M58.6,8.5 L60.2,3.0 M60.7,8.7 L64.6,3.6 M62.5,9.1 L68.6,4.8 M64.1,9.7 L71.9,6.4 M65.2,10.5 L74.3,8.3 M65.9,11.3 L75.8,10.5 M50.3,18.5 L50.9,22.9 M53.1,18.7 L53.7,23.3 M55.8,19.0 L56.5,23.6 M58.6,19.2 L59.2,24.0 M61.4,19.5 L62.0,24.4 M64.2,19.2 L64.8,24.8 M66.9,19.0 L67.5,25.2 M69.7,18.7 L70.3,24.8 M72.5,18.5 L73.1,24.4 M36.5,27.0 Q57.2,32.7 70.4,32.1 M32.7,33.3 Q53.5,40.3 66.7,40.9 M26.4,38.4 Q47.2,46.5 60.4,48.4 M20.1,39.6 Q39.0,50.0 50.3,54.1 M13.8,39.6 Q30.2,51.6 39.0,57.2 M8.8,42.1 Q22.0,53.1 27.7,57.9 M5.0,44.7 Q15.1,53.1 17.6,55.3 " stroke="#1e1e1e" stroke-width="1.05" fill="none"/>
</g>
</g>
<g stroke="#000" stroke-width="2.4" fill="none">
<line x1="239.2" y1="81.9" x2="239.2" y2="2428.4"/>
<line x1="290.3" y1="81.9" x2="290.3" y2="2428.4"/>
<line x1="342.4" y1="81.9" x2="342.4" y2="2428.4"/>
<line x1="389.7" y1="81.9" x2="389.7" y2="2428.4"/>
<line x1="434.0" y1="81.9" x2="434.0" y2="2428.4"/>
<line x1="476.2" y1="81.9" x2="476.2" y2="2428.4"/>
<line x1="239.2" y1="83.0" x2="476.2" y2="83.0"/>
<line x1="239.2" y1="2427.3" x2="476.2" y2="2427.3"/>
<line x1="239.2" y1="164.2" x2="342.4" y2="164.2"/>
<line x1="434.0" y1="708.6" x2="476.2" y2="708.6"/>
<line x1="434.0" y1="973" x2="476.2" y2="973"/>
<line x1="434.0" y1="2172.5" x2="476.2" y2="2172.5"/>
<line x1="290.3" y1="924.8" x2="342.4" y2="924.8" stroke-dasharray="14 12.4" stroke-dashoffset="6.5"/>
</g>
<polyline points="342.4,164.76 343.4,164.39 344.4,164.04 345.4,163.73 346.4,163.46 347.4,163.25 348.4,163.10 349.4,163.02 350.4,163.00 351.5,163.06 352.5,163.19 353.5,163.39 354.5,163.64 355.5,163.94 356.5,164.28 357.5,164.64 358.5,165.02 359.5,165.39 360.5,165.76 361.5,166.09 362.5,166.39 363.5,166.63 364.5,166.82 365.5,166.94 366.5,167.00 367.6,166.98 368.6,166.89 369.6,166.74 370.6,166.52 371.6,166.25 372.6,165.93 373.6,165.58 374.6,165.21 375.6,164.83 376.6,164.46 377.6,164.11 378.6,163.79 379.6,163.51 380.6,163.28 381.6,163.12 382.6,163.03 383.6,163.00 384.7,163.05 385.7,163.16 386.7,163.34 387.7,163.58 388.7,163.88 389.7,164.21 390.7,164.57 391.7,164.94 392.7,165.32 393.7,165.68 394.7,166.03 395.7,166.33 396.7,166.59 397.7,166.79 398.7,166.92 399.7,166.99 400.7,166.99 401.8,166.92 402.8,166.77 403.8,166.57 404.8,166.30 405.8,166.00 406.8,165.65 407.8,165.28 408.8,164.91 409.8,164.53 410.8,164.18 411.8,163.85 412.8,163.56 413.8,163.32 414.8,163.15 415.8,163.04 416.8,163.00 417.9,163.03 418.9,163.13 419.9,163.30 420.9,163.53 421.9,163.81 422.9,164.14 423.9,164.49 424.9,164.87 425.9,165.24 426.9,165.61 427.9,165.96 428.9,166.27 429.9,166.54 430.9,166.75 431.9,166.90 432.9,166.98 433.9,167.00 435.0,166.94 436.0,166.81 437.0,166.61 438.0,166.36 439.0,166.06 440.0,165.72 441.0,165.36 442.0,164.98 443.0,164.61 444.0,164.25 445.0,163.91 446.0,163.61 447.0,163.37 448.0,163.18 449.0,163.06 450.0,163.00 451.0,163.02 452.1,163.11 453.1,163.26 454.1,163.48 455.1,163.75 456.1,164.07 457.1,164.42 458.1,164.79 459.1,165.17 460.1,165.54 461.1,165.89 462.1,166.21 463.1,166.49 464.1,166.72 465.1,166.88 466.1,166.97 467.1,167.00 468.2,166.95 469.2,166.84 470.2,166.66 471.2,166.42 472.2,166.12 473.2,165.79 474.2,165.43 475.2,165.06 476.2,164.68" fill="none" stroke="#000" stroke-width="2.2" stroke-linejoin="round"/>
<polyline points="389.7,1019.03 390.7,1019.43 391.7,1019.84 392.7,1020.26 393.7,1020.66 394.7,1021.03 395.7,1021.37 396.7,1021.65 397.7,1021.87 398.8,1022.02 399.8,1022.09 400.8,1022.09 401.8,1022.00 402.8,1021.85 403.8,1021.62 404.8,1021.33 405.8,1020.99 406.8,1020.61 407.8,1020.21 408.8,1019.79 409.8,1019.38 410.8,1018.99 411.8,1018.63 412.8,1018.31 413.8,1018.05 414.8,1017.86 415.9,1017.74 416.9,1017.70 417.9,1017.74 418.9,1017.85 419.9,1018.04 420.9,1018.29 421.9,1018.60 422.9,1018.96 423.9,1019.35 424.9,1019.76 425.9,1020.17 426.9,1020.58 427.9,1020.96 428.9,1021.30 429.9,1021.60 430.9,1021.83 431.9,1021.99 432.9,1022.08 434.0,1022.10 435.0,1022.03 436.0,1021.89 437.0,1021.67 438.0,1021.39 439.0,1021.06 440.0,1020.69 441.0,1020.29 442.0,1019.88 443.0,1019.46 444.0,1019.07 445.0,1018.70 446.0,1018.37 447.0,1018.10 448.0,1017.90 449.0,1017.76 450.0,1017.70 451.1,1017.72 452.1,1017.82 453.1,1017.99 454.1,1018.23 455.1,1018.53 456.1,1018.88 457.1,1019.26 458.1,1019.67 459.1,1020.09 460.1,1020.50 461.1,1020.88 462.1,1021.24 463.1,1021.54 464.1,1021.79 465.1,1021.97 466.1,1022.07 467.1,1022.10 468.2,1022.05 469.2,1021.92 470.2,1021.72 471.2,1021.46 472.2,1021.14 473.2,1020.77 474.2,1020.38 475.2,1019.96 476.2,1019.55" fill="none" stroke="#000" stroke-width="2.2" stroke-linejoin="round"/>
<polyline points="389.7,1366.62 390.7,1367.07 391.7,1367.54 392.7,1368.01 393.7,1368.46 394.7,1368.89 395.7,1369.27 396.7,1369.59 397.8,1369.84 398.8,1370.01 399.8,1370.09 400.8,1370.09 401.8,1369.99 402.8,1369.81 403.8,1369.55 404.8,1369.22 405.8,1368.83 406.8,1368.40 407.8,1367.94 408.8,1367.47 409.8,1367.00 410.8,1366.55 411.9,1366.15 412.9,1365.79 413.9,1365.50 414.9,1365.28 415.9,1365.15 416.9,1365.10 417.9,1365.14 418.9,1365.27 419.9,1365.49 420.9,1365.78 421.9,1366.13 422.9,1366.54 423.9,1366.99 424.9,1367.45 425.9,1367.93 427.0,1368.39 428.0,1368.82 429.0,1369.21 430.0,1369.54 431.0,1369.80 432.0,1369.99 433.0,1370.08 434.0,1370.09" fill="none" stroke="#000" stroke-width="2.2" stroke-linejoin="round"/>
<polyline points="342.4,1960.53 343.4,1960.13 344.4,1959.74 345.4,1959.40 346.4,1959.11 347.4,1958.87 348.4,1958.71 349.4,1958.62 350.4,1958.60 351.5,1958.67 352.5,1958.81 353.5,1959.03 354.5,1959.30 355.5,1959.63 356.5,1960.00 357.5,1960.40 358.5,1960.82 359.5,1961.23 360.5,1961.63 361.5,1962.00 362.5,1962.32 363.5,1962.60 364.5,1962.80 365.5,1962.94 366.5,1963.00 367.6,1962.98 368.6,1962.88 369.6,1962.71 370.6,1962.47 371.6,1962.17 372.6,1961.82 373.6,1961.44 374.6,1961.03 375.6,1960.61 376.6,1960.21 377.6,1959.82 378.6,1959.46 379.6,1959.16 380.6,1958.91 381.6,1958.73 382.6,1958.63 383.6,1958.60 384.7,1958.65 385.7,1958.78 386.7,1958.98 387.7,1959.24 388.7,1959.56 389.7,1959.93 390.7,1960.32 391.7,1960.74 392.7,1961.15 393.7,1961.55 394.7,1961.93 395.7,1962.26 396.7,1962.55 397.7,1962.77 398.7,1962.92 399.7,1962.99 400.7,1962.99 401.8,1962.91 402.8,1962.75 403.8,1962.52 404.8,1962.23 405.8,1961.90 406.8,1961.52 407.8,1961.11 408.8,1960.70 409.8,1960.29 410.8,1959.89 411.8,1959.53 412.8,1959.22 413.8,1958.96 414.8,1958.76 415.8,1958.64 416.8,1958.60 417.9,1958.64 418.9,1958.75 419.9,1958.93 420.9,1959.19 421.9,1959.50 422.9,1959.85 423.9,1960.24 424.9,1960.65 425.9,1961.07 426.9,1961.47 427.9,1961.86 428.9,1962.20 429.9,1962.49 430.9,1962.73 431.9,1962.89 432.9,1962.98 433.9,1963.00 435.0,1962.93 436.0,1962.79 437.0,1962.57 438.0,1962.30 439.0,1961.97 440.0,1961.60 441.0,1961.20 442.0,1960.78 443.0,1960.37 444.0,1959.97 445.0,1959.60 446.0,1959.28 447.0,1959.00 448.0,1958.80 449.0,1958.66 450.0,1958.60 451.0,1958.62 452.1,1958.72 453.1,1958.89 454.1,1959.13 455.1,1959.43 456.1,1959.78 457.1,1960.16 458.1,1960.57 459.1,1960.99 460.1,1961.39 461.1,1961.78 462.1,1962.13 463.1,1962.44 464.1,1962.69 465.1,1962.87 466.1,1962.97 467.1,1963.00 468.2,1962.95 469.2,1962.82 470.2,1962.62 471.2,1962.36 472.2,1962.04 473.2,1961.67 474.2,1961.28 475.2,1960.86 476.2,1960.45" fill="none" stroke="#000" stroke-width="2.2" stroke-linejoin="round"/>
<g stroke="#000" stroke-width="2" fill="none">
<path d="M434,1358.9 C438,1358.9 441,1357 444.5,1355.3 M464.5,1358.6 C468,1359.3 472,1358.6 476,1357.2"/>
<path d="M434,1370.2 C438,1370.3 441,1369 444.3,1367.2 M464,1369 C468,1369.9 472,1369.2 476,1367.6"/>
<circle cx="454.4" cy="1363.6" r="10.7" fill="#fff" stroke-width="1.3"/>
</g>
<g stroke="#000" stroke-width="3.2" fill="none">
<line x1="454.4" y1="1363.6" x2="454.4" y2="1354.0"/>
<line x1="454.4" y1="1363.6" x2="463.5" y2="1360.6"/>
<line x1="454.4" y1="1363.6" x2="460.0" y2="1371.4"/>
<line x1="454.4" y1="1363.6" x2="448.8" y2="1371.4"/>
<line x1="454.4" y1="1363.6" x2="445.3" y2="1360.6"/>
</g>
<text transform="translate(55.7,242) rotate(-90)" font-size="36" font-weight="bold" fill="#000" stroke="#000" stroke-width="0.35" textLength="150" lengthAdjust="spacingAndGlyphs">Genesee</text>
<text transform="translate(93,218) rotate(-90)" font-size="36" font-weight="bold" fill="#000" stroke="#000" stroke-width="0.35" textLength="102" lengthAdjust="spacingAndGlyphs">Fauna</text>
<text transform="translate(225.8,266) rotate(-90)" font-size="37.5" fill="#58585a" textLength="158" lengthAdjust="spacingAndGlyphs" stroke="#58585a" stroke-width="1.5">Tropical?</text>
<text transform="translate(225.8,754) rotate(-90)" font-size="37.5" fill="#58585a" textLength="300" lengthAdjust="spacingAndGlyphs" stroke="#58585a" stroke-width="1.5">Warm Temperate?</text>
<text transform="translate(55.7,1345) rotate(-90)" font-size="36" font-weight="bold" fill="#000" stroke="#000" stroke-width="0.35" textLength="327" lengthAdjust="spacingAndGlyphs">Recurrent Hamilton</text>
<text transform="translate(93,1232) rotate(-90)" font-size="36" font-weight="bold" fill="#000" stroke="#000" stroke-width="0.35" textLength="100" lengthAdjust="spacingAndGlyphs">Fauna</text>
<text transform="translate(225.8,1321) rotate(-90)" font-size="37.5" fill="#58585a" textLength="283" lengthAdjust="spacingAndGlyphs" stroke="#58585a" stroke-width="1.5">Warm Temperate</text>
<text transform="translate(55.7,1716.5) rotate(-90)" font-size="36" font-weight="bold" fill="#000" stroke="#000" stroke-width="0.35" textLength="80" lengthAdjust="spacingAndGlyphs">Tully</text>
<text transform="translate(93,1728) rotate(-90)" font-size="36" font-weight="bold" fill="#000" stroke="#000" stroke-width="0.35" textLength="102" lengthAdjust="spacingAndGlyphs">Fauna</text>
<text transform="translate(225.8,1720) rotate(-90)" font-size="37.5" fill="#58585a" textLength="134" lengthAdjust="spacingAndGlyphs" stroke="#58585a" stroke-width="1.5">Tropical</text>
<text transform="translate(55.7,2271.5) rotate(-90)" font-size="36" font-weight="bold" fill="#000" stroke="#000" stroke-width="0.35" textLength="148" lengthAdjust="spacingAndGlyphs">Hamilton</text>
<text transform="translate(93,2248) rotate(-90)" font-size="36" font-weight="bold" fill="#000" stroke="#000" stroke-width="0.35" textLength="101" lengthAdjust="spacingAndGlyphs">Fauna</text>
<text transform="translate(225.8,2329) rotate(-90)" font-size="37.5" fill="#58585a" textLength="283" lengthAdjust="spacingAndGlyphs" stroke="#58585a" stroke-width="1.5">Warm Temperate</text>
<text transform="translate(278.5,149.5) rotate(-90)" font-size="33" fill="#1a1a1a" stroke="#1a1a1a" stroke-width="0.5" textLength="50.5" lengthAdjust="spacingAndGlyphs">UG</text>
<text transform="translate(278.5,1347) rotate(-90)" font-size="32" fill="#1a1a1a" stroke="#1a1a1a" stroke-width="0.5" textLength="277" lengthAdjust="spacingAndGlyphs">MIDDLE GIVETIAN</text>
<text transform="translate(326,160.5) rotate(-90)" font-size="28.5" font-style="italic" fill="#000" stroke="#000" stroke-width="0.5" textLength="73" lengthAdjust="spacingAndGlyphs">herm.</text>
<text transform="translate(326,661.5) rotate(-90)" font-size="32.5" font-style="italic" fill="#000" stroke="#000" stroke-width="0.5" textLength="205" lengthAdjust="spacingAndGlyphs">semialternans</text>
<text transform="translate(326,1622.5) rotate(-90)" font-size="32.5" font-style="italic" fill="#000" stroke="#000" stroke-width="0.5" textLength="116.5" lengthAdjust="spacingAndGlyphs">ansatus</text>
<text transform="translate(377.3,159) rotate(-90)" font-size="31" font-weight="bold" fill="#000" stroke="#000" stroke-width="0.35" textLength="67" lengthAdjust="spacingAndGlyphs">GEN</text>
<text transform="translate(378,1231) rotate(-90)" font-size="34" font-weight="bold" fill="#000" stroke="#000" stroke-width="0.35" textLength="110" lengthAdjust="spacingAndGlyphs">TULLY</text>
<text transform="translate(378,2252) rotate(-90)" font-size="34" font-weight="bold" fill="#000" stroke="#000" stroke-width="0.35" textLength="166" lengthAdjust="spacingAndGlyphs">MOSCOW</text>
<text transform="translate(422.5,690) rotate(-90)" font-size="33" fill="#000" stroke="#000" stroke-width="0.5">Long Hill</text>
<text transform="translate(422.5,1265) rotate(-90)" font-size="33" fill="#000" stroke="#000" stroke-width="0.5" textLength="147" lengthAdjust="spacingAndGlyphs">Upperville</text>
<text transform="translate(422.5,1775) rotate(-90)" font-size="33" fill="#000" stroke="#000" stroke-width="0.5" textLength="227" lengthAdjust="spacingAndGlyphs">Labrador Valley</text>
<text transform="translate(422.5,2258) rotate(-90)" font-size="33" fill="#000" stroke="#000" stroke-width="0.5" textLength="177" lengthAdjust="spacingAndGlyphs">Garrattsville</text>
<text transform="translate(464.6,545) rotate(-90)" font-size="33" fill="#000" stroke="#000" stroke-width="0.5">Fillmore Glen</text>
<text transform="translate(464.6,906) rotate(-90)" font-size="33" fill="#000" stroke="#000" stroke-width="0.5">Moravia</text>
<text x="443.3" y="1009.6" font-size="33" fill="#000" stroke="#000" stroke-width="0.5">B</text>
<text transform="translate(464.6,1331) rotate(-90)" font-size="33" fill="#000" stroke="#000" stroke-width="0.5" textLength="275" lengthAdjust="spacingAndGlyphs">Taughannock Falls</text>
<text transform="translate(464.6,1783) rotate(-90)" font-size="33" fill="#000" stroke="#000" stroke-width="0.5" textLength="232" lengthAdjust="spacingAndGlyphs">Carpenter Falls</text>
<text transform="translate(464.6,2148) rotate(-90)" font-size="33" fill="#000" stroke="#000" stroke-width="0.5" textLength="164" lengthAdjust="spacingAndGlyphs">Gage Gully</text>
<text transform="translate(464.6,2419.5) rotate(-90)" font-size="33" fill="#000" stroke="#000" stroke-width="0.5" textLength="237" lengthAdjust="spacingAndGlyphs">Spezzano Gully</text>
<text transform="translate(267.5,80.4) rotate(-45)" font-size="34" fill="#000" stroke="#000" stroke-width="0.5">Stage</text>
<text transform="translate(321.4,81) rotate(-45)" font-size="34" fill="#000" stroke="#000" stroke-width="0.5">Cono</text>
<text transform="translate(368,81.4) rotate(-45)" font-size="34" fill="#000" stroke="#000" stroke-width="0.5">Fm</text>
<text transform="translate(413.5,81.4) rotate(-45)" font-size="34" fill="#000" stroke="#000" stroke-width="0.5">Mbr</text>
<text transform="translate(455.5,80.3) rotate(-45)" font-size="34" fill="#000" stroke="#000" stroke-width="0.5">Smbr</text>
<text x="826.8" y="62.8" font-size="37" font-weight="bold" text-anchor="middle" fill="#000" stroke="#000" stroke-width="0.35" textLength="283" lengthAdjust="spacingAndGlyphs">Cargill #17 Core</text>
<text x="826.3" y="102.9" font-size="33.5" font-weight="bold" text-anchor="middle" fill="#000" stroke="#000" stroke-width="0.35" textLength="539" lengthAdjust="spacingAndGlyphs">(adapted from Zambito et al. 2016)</text>
<text x="1662.5" y="62.8" font-size="37" font-weight="bold" text-anchor="middle" fill="#000" stroke="#000" stroke-width="0.35" textLength="537" lengthAdjust="spacingAndGlyphs">Appalachian Basin Composite</text>
<text x="1662.5" y="102.9" font-size="33.5" font-weight="bold" text-anchor="middle" fill="#000" stroke="#000" stroke-width="0.35" textLength="539" lengthAdjust="spacingAndGlyphs">(adapted from Zambito et al. 2013)</text>
<polyline points="478.0,1962.20 479.0,1961.39 480.0,1960.84 481.0,1960.72 482.0,1961.07 483.0,1961.78 484.0,1962.62 485.0,1963.33 486.0,1963.69 487.0,1963.56 488.0,1963.01 489.0,1962.20 490.0,1961.39 491.0,1960.83 492.0,1960.72 493.0,1961.07 494.0,1961.78 495.0,1962.63 496.0,1963.34 497.0,1963.69 498.0,1963.56 499.0,1963.01 500.0,1962.19 501.0,1961.38 502.0,1960.83 503.0,1960.72 504.0,1961.07 505.0,1961.78 506.0,1962.63 507.0,1963.34 508.0,1963.69 509.0,1963.56 510.0,1963.00 511.0,1962.19 512.0,1961.38 513.0,1960.83 514.0,1960.72 515.0,1961.07 516.0,1961.79 517.0,1962.63 518.0,1963.34 519.0,1963.69 520.0,1963.56 521.0,1963.00 522.0,1962.19 523.0,1961.38 524.0,1960.83 525.0,1960.72 526.0,1961.08 527.0,1961.79 528.0,1962.64 529.0,1963.34 530.0,1963.69 531.0,1963.56 532.0,1963.00 533.0,1962.18 534.0,1961.38 535.0,1960.83 536.0,1960.72 537.0,1961.08 538.0,1961.79 539.0,1962.64 540.0,1963.34 541.0,1963.69 542.0,1963.56 543.0,1963.00 544.0,1962.18 545.0,1961.37 546.0,1960.83 547.0,1960.72 548.0,1961.08 549.0,1961.80 550.0,1962.64 551.0,1963.35 552.0,1963.69 553.0,1963.56 554.0,1962.99 555.0,1962.18 556.0,1961.37 557.0,1960.83 558.0,1960.72 559.0,1961.08 560.0,1961.80 561.0,1962.64 562.0,1963.35 563.0,1963.69 564.0,1963.55 565.0,1962.99 566.0,1962.18 567.0,1961.37 568.0,1960.83 569.0,1960.72 570.0,1961.08 571.0,1961.80 572.0,1962.65 573.0,1963.35 574.0,1963.69 575.0,1963.55 576.0,1962.99 577.0,1962.17 578.0,1961.37 579.0,1960.82 580.0,1960.72 581.0,1961.09 582.0,1961.80 583.0,1962.65 584.0,1963.35 585.0,1963.69 586.0,1963.55 587.0,1962.99 588.0,1962.17 589.0,1961.36 590.0,1960.82 591.0,1960.72 592.0,1961.09 593.0,1961.81 594.0,1962.65 595.0,1963.35 596.0,1963.69 597.0,1963.55 598.0,1962.98 599.0,1962.17 600.0,1961.36 601.0,1960.82 602.0,1960.72 603.0,1961.09 604.0,1961.81 605.0,1962.66 606.0,1963.36 607.0,1963.69 608.0,1963.55 609.0,1962.98 610.0,1962.16 611.0,1961.36 612.0,1960.82 613.0,1960.72 614.0,1961.09 615.0,1961.81 616.0,1962.66 617.0,1963.36 618.0,1963.69 619.0,1963.55 620.0,1962.98 621.0,1962.16 622.0,1961.36 623.0,1960.82 624.0,1960.72 625.0,1961.09 626.0,1961.82 627.0,1962.66 628.0,1963.36 629.0,1963.69 630.0,1963.55 631.0,1962.98 632.0,1962.16 633.0,1961.35 634.1,1960.82 635.1,1960.72 636.1,1961.10 637.1,1961.82 638.1,1962.66 639.1,1963.36 640.1,1963.69 641.1,1963.55 642.1,1962.97 643.1,1962.15 644.1,1961.35 645.1,1960.82 646.1,1960.72 647.1,1961.10 648.1,1961.82 649.1,1962.67 650.1,1963.36 651.1,1963.69 652.1,1963.54 653.1,1962.97 654.1,1962.15 655.1,1961.35 656.1,1960.82 657.1,1960.72 658.1,1961.10 659.1,1961.83 660.1,1962.67 661.1,1963.37 662.1,1963.69 663.1,1963.54 664.1,1962.97 665.1,1962.15 666.1,1961.35 667.1,1960.81 668.1,1960.72 669.1,1961.10 670.1,1961.83 671.1,1962.67 672.1,1963.37 673.1,1963.69 674.1,1963.54 675.1,1962.96 676.1,1962.15 677.1,1961.34 678.1,1960.81 679.1,1960.72 680.1,1961.10 681.1,1961.83 682.1,1962.68 683.1,1963.37 684.1,1963.69 685.1,1963.54 686.1,1962.96 687.1,1962.14 688.1,1961.34 689.1,1960.81 690.1,1960.72 691.1,1961.11 692.1,1961.83 693.1,1962.68 694.1,1963.37 695.1,1963.69 696.1,1963.54 697.1,1962.96 698.1,1962.14 699.1,1961.34 700.1,1960.81 701.1,1960.73 702.1,1961.11 703.1,1961.84 704.1,1962.68 705.1,1963.37 706.1,1963.69 707.1,1963.54 708.1,1962.96 709.1,1962.14 710.1,1961.34 711.1,1960.81 712.1,1960.73 713.1,1961.11 714.1,1961.84 715.1,1962.68 716.1,1963.38 717.1,1963.69 718.1,1963.54 719.1,1962.95 720.1,1962.13 721.1,1961.33 722.1,1960.81 723.1,1960.73 724.1,1961.11 725.1,1961.84 726.1,1962.69 727.1,1963.38 728.1,1963.69 729.1,1963.53 730.1,1962.95 731.1,1962.13 732.1,1961.33 733.1,1960.81 734.1,1960.73 735.1,1961.11 736.1,1961.85 737.1,1962.69 738.1,1963.38 739.1,1963.69 740.1,1963.53 741.1,1962.95 742.1,1962.13 743.1,1961.33 744.1,1960.81 745.1,1960.73 746.1,1961.12 747.1,1961.85 748.1,1962.69 749.1,1963.38 750.1,1963.69 751.1,1963.53 752.1,1962.95 753.1,1962.12 754.1,1961.33 755.1,1960.81 756.1,1960.73 757.1,1961.12 758.1,1961.85 759.1,1962.70 760.1,1963.38 761.1,1963.69 762.1,1963.53 763.1,1962.94 764.1,1962.12 765.1,1961.32 766.1,1960.80 767.1,1960.73 768.1,1961.12 769.1,1961.85 770.1,1962.70 771.1,1963.38 772.1,1963.69 773.1,1963.53 774.1,1962.94 775.1,1962.12 776.1,1961.32 777.1,1960.80 778.1,1960.73 779.1,1961.12 780.1,1961.86 781.1,1962.70 782.1,1963.39 783.1,1963.69 784.1,1963.53 785.1,1962.94 786.1,1962.12 787.1,1961.32 788.1,1960.80 789.1,1960.73 790.1,1961.12 791.1,1961.86 792.1,1962.70 793.1,1963.39 794.1,1963.69 795.1,1963.53 796.1,1962.94 797.1,1962.11 798.1,1961.32 799.1,1960.80 800.1,1960.73 801.1,1961.13 802.1,1961.86 803.1,1962.71 804.1,1963.39 805.1,1963.69 806.1,1963.52 807.1,1962.93 808.1,1962.11 809.1,1961.31 810.1,1960.80 811.1,1960.73 812.1,1961.13 813.1,1961.87 814.1,1962.71 815.1,1963.39 816.1,1963.70 817.1,1963.52 818.1,1962.93 819.1,1962.11 820.1,1961.31 821.1,1960.80 822.1,1960.73 823.1,1961.13 824.1,1961.87 825.1,1962.71 826.1,1963.39 827.1,1963.70 828.1,1963.52 829.1,1962.93 830.1,1962.10 831.1,1961.31 832.1,1960.80 833.1,1960.73 834.1,1961.13 835.1,1961.87 836.1,1962.72 837.1,1963.40 838.1,1963.70 839.1,1963.52 840.1,1962.93 841.1,1962.10 842.1,1961.31 843.1,1960.80 844.1,1960.73 845.1,1961.14 846.1,1961.88 847.1,1962.72 848.1,1963.40 849.1,1963.70 850.1,1963.52 851.1,1962.92 852.1,1962.10 853.1,1961.30 854.1,1960.80 855.1,1960.73 856.1,1961.14 857.1,1961.88 858.1,1962.72 859.1,1963.40 860.1,1963.70 861.1,1963.52 862.1,1962.92 863.1,1962.09 864.1,1961.30 865.1,1960.79 866.1,1960.73 867.1,1961.14 868.1,1961.88 869.1,1962.72 870.1,1963.40 871.1,1963.70 872.1,1963.52 873.1,1962.92 874.1,1962.09 875.1,1961.30 876.1,1960.79 877.1,1960.73 878.1,1961.14 879.1,1961.88 880.1,1962.73 881.1,1963.40 882.1,1963.70 883.1,1963.51 884.1,1962.91 885.1,1962.09 886.1,1961.30 887.1,1960.79 888.1,1960.74 889.1,1961.14 890.1,1961.89 891.1,1962.73 892.1,1963.40 893.1,1963.70 894.1,1963.51 895.1,1962.91 896.1,1962.09 897.1,1961.29 898.1,1960.79 899.1,1960.74 900.1,1961.15 901.1,1961.89 902.1,1962.73 903.1,1963.41 904.1,1963.70 905.1,1963.51 906.1,1962.91 907.1,1962.08 908.1,1961.29 909.1,1960.79 910.1,1960.74 911.1,1961.15 912.1,1961.89 913.1,1962.74 914.1,1963.41 915.1,1963.70 916.1,1963.51 917.1,1962.91 918.1,1962.08 919.1,1961.29 920.1,1960.79 921.1,1960.74 922.1,1961.15 923.1,1961.90 924.1,1962.74 925.1,1963.41 926.1,1963.70 927.1,1963.51 928.1,1962.90 929.1,1962.08 930.1,1961.29 931.1,1960.79 932.1,1960.74 933.1,1961.15 934.1,1961.90 935.1,1962.74 936.1,1963.41 937.1,1963.70 938.1,1963.51 939.1,1962.90 940.1,1962.07 941.1,1961.28 942.1,1960.79 943.1,1960.74 944.1,1961.15 945.2,1961.90 946.2,1962.74 947.2,1963.41 948.2,1963.70 949.2,1963.51 950.2,1962.90 951.2,1962.07 952.2,1961.28 953.2,1960.79 954.2,1960.74 955.2,1961.16 956.2,1961.91 957.2,1962.75 958.2,1963.42 959.2,1963.70 960.2,1963.50 961.2,1962.90 962.2,1962.07 963.2,1961.28 964.2,1960.79 965.2,1960.74 966.2,1961.16 967.2,1961.91 968.2,1962.75 969.2,1963.42 970.2,1963.70 971.2,1963.50 972.2,1962.89 973.2,1962.06 974.2,1961.28 975.2,1960.78 976.2,1960.74 977.2,1961.16 978.2,1961.91 979.2,1962.75 980.2,1963.42 981.2,1963.70 982.2,1963.50 983.2,1962.89 984.2,1962.06 985.2,1961.28 986.2,1960.78 987.2,1960.74 988.2,1961.16 989.2,1961.91 990.2,1962.76 991.2,1963.42 992.2,1963.70 993.2,1963.50 994.2,1962.89 995.2,1962.06 996.2,1961.27 997.2,1960.78 998.2,1960.74 999.2,1961.17 1000.2,1961.92 1001.2,1962.76 1002.2,1963.42 1003.2,1963.70 1004.2,1963.50 1005.2,1962.89 1006.2,1962.05 1007.2,1961.27 1008.2,1960.78 1009.2,1960.74 1010.2,1961.17 1011.2,1961.92 1012.2,1962.76 1013.2,1963.42 1014.2,1963.70 1015.2,1963.50 1016.2,1962.88 1017.2,1962.05 1018.2,1961.27 1019.2,1960.78 1020.2,1960.74 1021.2,1961.17 1022.2,1961.92 1023.2,1962.76 1024.2,1963.43 1025.2,1963.70 1026.2,1963.49 1027.2,1962.88 1028.2,1962.05 1029.2,1961.27 1030.2,1960.78 1031.2,1960.74 1032.2,1961.17 1033.2,1961.93 1034.2,1962.77 1035.2,1963.43 1036.2,1963.70 1037.2,1963.49 1038.2,1962.88 1039.2,1962.05 1040.2,1961.26 1041.2,1960.78 1042.2,1960.75 1043.2,1961.17 1044.2,1961.93 1045.2,1962.77 1046.2,1963.43 1047.2,1963.70 1048.2,1963.49 1049.2,1962.87 1050.2,1962.04 1051.2,1961.26 1052.2,1960.78 1053.2,1960.75 1054.2,1961.18 1055.2,1961.93 1056.2,1962.77 1057.2,1963.43 1058.2,1963.70 1059.2,1963.49 1060.2,1962.87 1061.2,1962.04 1062.2,1961.26 1063.2,1960.78 1064.2,1960.75 1065.2,1961.18 1066.2,1961.93 1067.2,1962.78 1068.2,1963.43 1069.2,1963.70 1070.2,1963.49 1071.2,1962.87 1072.2,1962.04 1073.2,1961.26 1074.2,1960.78 1075.2,1960.75 1076.2,1961.18 1077.2,1961.94 1078.2,1962.78 1079.2,1963.43 1080.2,1963.70 1081.2,1963.49 1082.2,1962.87 1083.2,1962.03 1084.2,1961.25 1085.2,1960.77 1086.2,1960.75 1087.2,1961.18 1088.2,1961.94 1089.2,1962.78 1090.2,1963.44 1091.2,1963.70 1092.2,1963.49 1093.2,1962.86 1094.2,1962.03 1095.2,1961.25 1096.2,1960.77 1097.2,1960.75 1098.2,1961.19 1099.2,1961.94 1100.2,1962.78 1101.2,1963.44 1102.2,1963.70 1103.2,1963.48 1104.2,1962.86 1105.2,1962.03 1106.2,1961.25 1107.2,1960.77 1108.2,1960.75 1109.2,1961.19 1110.2,1961.95 1111.2,1962.79 1112.2,1963.44 1113.2,1963.70 1114.2,1963.48 1115.2,1962.86 1116.2,1962.02 1117.2,1961.25 1118.2,1960.77 1119.2,1960.75 1120.2,1961.19 1121.2,1961.95 1122.2,1962.79 1123.2,1963.44 1124.2,1963.70 1125.2,1963.48 1126.2,1962.86 1127.2,1962.02 1128.2,1961.24 1129.2,1960.77 1130.2,1960.75 1131.2,1961.19 1132.2,1961.95 1133.2,1962.79 1134.2,1963.44 1135.2,1963.70 1136.2,1963.48 1137.2,1962.85 1138.2,1962.02 1139.2,1961.24 1140.2,1960.77 1141.2,1960.75 1142.2,1961.19 1143.2,1961.96 1144.2,1962.79 1145.2,1963.45 1146.2,1963.70 1147.2,1963.48 1148.2,1962.85 1149.2,1962.02 1150.2,1961.24 1151.2,1960.77 1152.2,1960.75 1153.2,1961.20 1154.2,1961.96 1155.2,1962.80 1156.2,1963.45 1157.2,1963.70 1158.2,1963.48 1159.2,1962.85 1160.2,1962.01 1161.2,1961.24 1162.2,1960.77 1163.2,1960.75 1164.2,1961.20 1165.2,1961.96 1166.2,1962.80 1167.2,1963.45 1168.2,1963.70 1169.2,1963.47 1170.2,1962.84 1171.2,1962.01 1172.2,1961.24 1173.2,1960.77 1174.2,1960.75 1175.2,1961.20 1176.2,1961.96 1177.2,1962.80 1178.2,1963.45 1179.2,1963.70 1180.2,1963.47 1181.2,1962.84 1182.2,1962.01 1183.2,1961.23 1184.2,1960.77 1185.2,1960.76 1186.2,1961.20 1187.2,1961.97 1188.2,1962.81 1189.2,1963.45 1190.2,1963.70 1191.2,1963.47 1192.2,1962.84 1193.2,1962.00 1194.2,1961.23 1195.2,1960.77 1196.2,1960.76 1197.2,1961.21 1198.2,1961.97 1199.2,1962.81 1200.2,1963.45 1201.2,1963.70 1202.2,1963.47 1203.2,1962.84 1204.2,1962.00 1205.2,1961.23 1206.2,1960.76 1207.2,1960.76 1208.2,1961.21 1209.2,1961.97 1210.2,1962.81 1211.2,1963.46 1212.2,1963.70 1213.2,1963.47 1214.2,1962.83 1215.2,1962.00 1216.2,1961.23 1217.2,1960.76 1218.2,1960.76 1219.2,1961.21 1220.2,1961.98 1221.2,1962.81 1222.2,1963.46 1223.2,1963.70 1224.2,1963.47 1225.2,1962.83 1226.2,1961.99 1227.2,1961.22 1228.2,1960.76 1229.2,1960.76 1230.2,1961.21 1231.2,1961.98 1232.2,1962.82 1233.2,1963.46 1234.2,1963.70 1235.2,1963.46 1236.2,1962.83 1237.2,1961.99 1238.2,1961.22 1239.2,1960.76 1240.2,1960.76 1241.2,1961.21 1242.2,1961.98 1243.2,1962.82 1244.2,1963.46 1245.2,1963.70 1246.2,1963.46 1247.2,1962.83 1248.2,1961.99 1249.2,1961.22 1250.2,1960.76 1251.2,1960.76 1252.2,1961.22 1253.2,1961.99 1254.2,1962.82 1255.2,1963.46 1256.2,1963.70 1257.3,1963.46 1258.3,1962.82 1259.3,1961.99 1260.3,1961.22 1261.3,1960.76 1262.3,1960.76 1263.3,1961.22 1264.3,1961.99 1265.3,1962.83 1266.3,1963.46 1267.3,1963.70 1268.3,1963.46 1269.3,1962.82 1270.3,1961.98 1271.3,1961.21 1272.3,1960.76 1273.3,1960.76 1274.3,1961.22 1275.3,1961.99 1276.3,1962.83 1277.3,1963.46 1278.3,1963.70 1279.3,1963.46 1280.3,1962.82 1281.3,1961.98 1282.3,1961.21 1283.3,1960.76 1284.3,1960.76 1285.3,1961.22 1286.3,1961.99 1287.3,1962.83 1288.3,1963.47 1289.3,1963.70 1290.3,1963.46 1291.3,1962.81 1292.3,1961.98 1293.3,1961.21 1294.3,1960.76 1295.3,1960.76 1296.3,1961.23 1297.3,1962.00 1298.3,1962.83 1299.3,1963.47 1300.3,1963.70 1301.3,1963.46 1302.3,1962.81 1303.3,1961.97 1304.3,1961.21 1305.3,1960.76 1306.3,1960.76 1307.3,1961.23 1308.3,1962.00 1309.3,1962.84 1310.3,1963.47 1311.3,1963.70 1312.3,1963.45 1313.3,1962.81 1314.3,1961.97 1315.3,1961.21 1316.3,1960.76 1317.3,1960.77 1318.3,1961.23 1319.3,1962.00 1320.3,1962.84 1321.3,1963.47 1322.3,1963.70 1323.3,1963.45 1324.3,1962.81 1325.3,1961.97 1326.3,1961.20 1327.3,1960.76 1328.3,1960.77 1329.3,1961.23 1330.3,1962.01 1331.3,1962.84 1332.3,1963.47 1333.3,1963.70 1334.3,1963.45 1335.3,1962.80 1336.3,1961.96 1337.3,1961.20 1338.3,1960.75 1339.3,1960.77 1340.3,1961.24 1341.3,1962.01 1342.3,1962.84 1343.3,1963.47 1344.3,1963.70 1345.3,1963.45 1346.3,1962.80 1347.3,1961.96 1348.3,1961.20 1349.3,1960.75 1350.3,1960.77 1351.3,1961.24 1352.3,1962.01 1353.3,1962.85 1354.3,1963.48 1355.3,1963.70 1356.3,1963.45 1357.3,1962.80 1358.3,1961.96 1359.3,1961.20 1360.3,1960.75 1361.3,1960.77 1362.3,1961.24 1363.3,1962.02 1364.3,1962.85 1365.3,1963.48 1366.3,1963.70 1367.3,1963.45 1368.3,1962.79 1369.3,1961.96 1370.3,1961.19 1371.3,1960.75 1372.3,1960.77 1373.3,1961.24 1374.3,1962.02 1375.3,1962.85 1376.3,1963.48 1377.3,1963.70 1378.3,1963.44 1379.3,1962.79 1380.3,1961.95 1381.3,1961.19 1382.3,1960.75 1383.3,1960.77 1384.3,1961.24 1385.3,1962.02 1386.3,1962.86 1387.3,1963.48 1388.3,1963.70 1389.3,1963.44 1390.3,1962.79 1391.3,1961.95 1392.3,1961.19 1393.3,1960.75 1394.3,1960.77 1395.3,1961.25 1396.3,1962.02 1397.3,1962.86 1398.3,1963.48 1399.3,1963.70 1400.3,1963.44 1401.3,1962.79 1402.3,1961.95 1403.3,1961.19 1404.3,1960.75 1405.3,1960.77 1406.3,1961.25 1407.3,1962.03 1408.3,1962.86 1409.3,1963.48 1410.3,1963.70 1411.3,1963.44 1412.3,1962.78 1413.3,1961.94 1414.3,1961.19 1415.3,1960.75 1416.3,1960.77 1417.3,1961.25 1418.3,1962.03 1419.3,1962.86 1420.3,1963.49 1421.3,1963.70 1422.3,1963.44 1423.3,1962.78 1424.3,1961.94 1425.3,1961.18 1426.3,1960.75 1427.3,1960.77 1428.3,1961.25 1429.3,1962.03 1430.3,1962.87 1431.3,1963.49 1432.3,1963.70 1433.3,1963.43 1434.3,1962.78 1435.3,1961.94 1436.3,1961.18 1437.3,1960.75 1438.3,1960.78 1439.3,1961.26 1440.3,1962.04 1441.3,1962.87 1442.3,1963.49 1443.3,1963.70 1444.3,1963.43 1445.3,1962.78 1446.3,1961.93 1447.3,1961.18 1448.3,1960.75 1449.3,1960.78 1450.3,1961.26 1451.3,1962.04 1452.3,1962.87 1453.3,1963.49 1454.3,1963.70 1455.3,1963.43 1456.3,1962.77 1457.3,1961.93 1458.3,1961.18 1459.3,1960.75 1460.3,1960.78 1461.3,1961.26 1462.3,1962.04 1463.3,1962.87 1464.3,1963.49 1465.3,1963.70 1466.3,1963.43 1467.3,1962.77 1468.3,1961.93 1469.3,1961.17 1470.3,1960.75 1471.3,1960.78 1472.3,1961.26 1473.3,1962.05 1474.3,1962.88 1475.3,1963.49 1476.3,1963.70 1477.3,1963.43 1478.3,1962.77 1479.3,1961.93 1480.3,1961.17 1481.3,1960.74 1482.3,1960.78 1483.3,1961.27 1484.3,1962.05 1485.3,1962.88 1486.3,1963.49 1487.3,1963.70 1488.3,1963.43 1489.3,1962.76 1490.3,1961.92 1491.3,1961.17 1492.3,1960.74 1493.3,1960.78 1494.3,1961.27 1495.3,1962.05 1496.3,1962.88 1497.3,1963.50 1498.3,1963.70 1499.3,1963.42 1500.3,1962.76 1501.3,1961.92 1502.3,1961.17 1503.3,1960.74 1504.3,1960.78 1505.3,1961.27 1506.3,1962.05 1507.3,1962.89 1508.3,1963.50 1509.3,1963.70 1510.3,1963.42 1511.3,1962.76 1512.3,1961.92 1513.3,1961.17 1514.3,1960.74 1515.3,1960.78 1516.3,1961.27 1517.3,1962.06 1518.3,1962.89 1519.3,1963.50 1520.3,1963.70 1521.3,1963.42 1522.3,1962.76 1523.3,1961.91 1524.3,1961.16 1525.3,1960.74 1526.3,1960.78 1527.3,1961.28 1528.3,1962.06 1529.3,1962.89 1530.3,1963.50 1531.3,1963.70 1532.3,1963.42 1533.3,1962.75 1534.3,1961.91 1535.3,1961.16 1536.3,1960.74 1537.3,1960.78 1538.3,1961.28 1539.3,1962.06 1540.3,1962.89 1541.3,1963.50 1542.3,1963.70 1543.3,1963.42 1544.3,1962.75 1545.3,1961.91 1546.3,1961.16 1547.3,1960.74 1548.3,1960.79 1549.3,1961.28 1550.3,1962.07 1551.3,1962.90 1552.3,1963.50 1553.3,1963.70 1554.3,1963.42 1555.3,1962.75 1556.3,1961.91 1557.3,1961.16 1558.3,1960.74 1559.3,1960.79 1560.3,1961.28 1561.3,1962.07 1562.3,1962.90 1563.3,1963.51 1564.3,1963.70 1565.3,1963.41 1566.3,1962.74 1567.3,1961.90 1568.4,1961.15 1569.4,1960.74 1570.4,1960.79 1571.4,1961.28 1572.4,1962.07 1573.4,1962.90 1574.4,1963.51 1575.4,1963.70 1576.4,1963.41 1577.4,1962.74 1578.4,1961.90 1579.4,1961.15 1580.4,1960.74 1581.4,1960.79 1582.4,1961.29 1583.4,1962.08 1584.4,1962.90 1585.4,1963.51 1586.4,1963.70 1587.4,1963.41 1588.4,1962.74 1589.4,1961.90 1590.4,1961.15 1591.4,1960.74 1592.4,1960.79 1593.4,1961.29 1594.4,1962.08 1595.4,1962.91 1596.4,1963.51 1597.4,1963.70 1598.4,1963.41 1599.4,1962.74 1600.4,1961.89 1601.4,1961.15 1602.4,1960.74 1603.4,1960.79 1604.4,1961.29 1605.4,1962.08 1606.4,1962.91 1607.4,1963.51 1608.4,1963.70 1609.4,1963.41 1610.4,1962.73 1611.4,1961.89 1612.4,1961.15 1613.4,1960.74 1614.4,1960.79 1615.4,1961.29 1616.4,1962.09 1617.4,1962.91 1618.4,1963.51 1619.4,1963.70 1620.4,1963.40 1621.4,1962.73 1622.4,1961.89 1623.4,1961.14 1624.4,1960.74 1625.4,1960.79 1626.4,1961.30 1627.4,1962.09 1628.4,1962.91 1629.4,1963.51 1630.4,1963.70 1631.4,1963.40 1632.4,1962.73 1633.4,1961.88 1634.4,1961.14 1635.4,1960.73 1636.4,1960.79 1637.4,1961.30 1638.4,1962.09 1639.4,1962.92 1640.4,1963.52 1641.4,1963.70 1642.4,1963.40 1643.4,1962.72 1644.4,1961.88 1645.4,1961.14 1646.4,1960.73 1647.4,1960.79 1648.4,1961.30 1649.4,1962.09 1650.4,1962.92 1651.4,1963.52 1652.4,1963.70 1653.4,1963.40 1654.4,1962.72 1655.4,1961.88 1656.4,1961.14 1657.4,1960.73 1658.4,1960.80 1659.4,1961.30 1660.4,1962.10 1661.4,1962.92 1662.4,1963.52 1663.4,1963.70 1664.4,1963.40 1665.4,1962.72 1666.4,1961.88 1667.4,1961.14 1668.4,1960.73 1669.4,1960.80 1670.4,1961.31 1671.4,1962.10 1672.4,1962.93 1673.4,1963.52 1674.4,1963.70 1675.4,1963.40 1676.4,1962.72 1677.4,1961.87 1678.4,1961.13 1679.4,1960.73 1680.4,1960.80 1681.4,1961.31 1682.4,1962.10 1683.4,1962.93 1684.4,1963.52 1685.4,1963.70 1686.4,1963.39 1687.4,1962.71 1688.4,1961.87 1689.4,1961.13 1690.4,1960.73 1691.4,1960.80 1692.4,1961.31 1693.4,1962.11 1694.4,1962.93 1695.4,1963.52 1696.4,1963.70 1697.4,1963.39 1698.4,1962.71 1699.4,1961.87 1700.4,1961.13 1701.4,1960.73 1702.4,1960.80 1703.4,1961.31 1704.4,1962.11 1705.4,1962.93 1706.4,1963.52 1707.4,1963.69 1708.4,1963.39 1709.4,1962.71 1710.4,1961.86 1711.4,1961.13 1712.4,1960.73 1713.4,1960.80 1714.4,1961.32 1715.4,1962.11 1716.4,1962.94 1717.4,1963.53 1718.4,1963.69 1719.4,1963.39 1720.4,1962.70 1721.4,1961.86 1722.4,1961.12 1723.4,1960.73 1724.4,1960.80 1725.4,1961.32 1726.4,1962.12 1727.4,1962.94 1728.4,1963.53 1729.4,1963.69 1730.4,1963.39 1731.4,1962.70 1732.4,1961.86 1733.4,1961.12 1734.4,1960.73 1735.4,1960.80 1736.4,1961.32 1737.4,1962.12 1738.4,1962.94 1739.4,1963.53 1740.4,1963.69 1741.4,1963.38 1742.4,1962.70 1743.4,1961.85 1744.4,1961.12 1745.4,1960.73 1746.4,1960.80 1747.4,1961.32 1748.4,1962.12 1749.4,1962.94 1750.4,1963.53 1751.4,1963.69 1752.4,1963.38 1753.4,1962.70 1754.4,1961.85 1755.4,1961.12 1756.4,1960.73 1757.4,1960.81 1758.4,1961.33 1759.4,1962.12 1760.4,1962.95 1761.4,1963.53 1762.4,1963.69 1763.4,1963.38 1764.4,1962.69 1765.4,1961.85 1766.4,1961.12 1767.4,1960.73 1768.4,1960.81 1769.4,1961.33 1770.4,1962.13 1771.4,1962.95 1772.4,1963.53 1773.4,1963.69 1774.4,1963.38 1775.4,1962.69 1776.4,1961.85 1777.4,1961.11 1778.4,1960.73 1779.4,1960.81 1780.4,1961.33 1781.4,1962.13 1782.4,1962.95 1783.4,1963.53 1784.4,1963.69 1785.4,1963.38 1786.4,1962.69 1787.4,1961.84 1788.4,1961.11 1789.4,1960.73 1790.4,1960.81 1791.4,1961.33 1792.4,1962.13 1793.4,1962.95 1794.4,1963.54 1795.4,1963.69 1796.4,1963.38 1797.4,1962.68 1798.4,1961.84 1799.4,1961.11 1800.4,1960.73 1801.4,1960.81 1802.4,1961.34 1803.4,1962.14 1804.4,1962.96 1805.4,1963.54 1806.4,1963.69 1807.4,1963.37 1808.4,1962.68 1809.4,1961.84 1810.4,1961.11 1811.4,1960.73 1812.4,1960.81 1813.4,1961.34 1814.4,1962.14 1815.4,1962.96 1816.4,1963.54 1817.4,1963.69 1818.4,1963.37 1819.4,1962.68 1820.4,1961.83 1821.4,1961.11 1822.4,1960.72 1823.4,1960.81 1824.4,1961.34 1825.4,1962.14 1826.4,1962.96 1827.4,1963.54 1828.4,1963.69 1829.4,1963.37 1830.4,1962.68 1831.4,1961.83 1832.4,1961.10 1833.4,1960.72 1834.4,1960.81 1835.4,1961.34 1836.4,1962.15 1837.4,1962.96 1838.4,1963.54 1839.4,1963.69 1840.4,1963.37 1841.4,1962.67 1842.4,1961.83 1843.4,1961.10 1844.4,1960.72 1845.4,1960.81 1846.4,1961.35 1847.4,1962.15 1848.4,1962.97 1849.4,1963.54 1850.4,1963.69 1851.4,1963.37 1852.4,1962.67 1853.4,1961.83 1854.4,1961.10 1855.4,1960.72 1856.4,1960.82 1857.4,1961.35 1858.4,1962.15 1859.4,1962.97 1860.4,1963.54 1861.4,1963.69 1862.4,1963.36 1863.4,1962.67 1864.4,1961.82 1865.4,1961.10 1866.4,1960.72 1867.4,1960.82 1868.4,1961.35 1869.4,1962.15 1870.4,1962.97 1871.4,1963.55 1872.4,1963.69 1873.4,1963.36 1874.4,1962.66 1875.4,1961.82 1876.4,1961.10 1877.4,1960.72 1878.4,1960.82 1879.5,1961.35 1880.5,1962.16 1881.5,1962.98 1882.5,1963.55 1883.5,1963.69 1884.5,1963.36 1885.5,1962.66 1886.5,1961.82 1887.5,1961.09 1888.5,1960.72 1889.5,1960.82 1890.5,1961.36 1891.5,1962.16 1892.5,1962.98 1893.5,1963.55 1894.5,1963.69 1895.5,1963.36 1896.5,1962.66 1897.5,1961.81 1898.5,1961.09 1899.5,1960.72 1900.5,1960.82 1901.5,1961.36 1902.5,1962.16 1903.5,1962.98 1904.5,1963.55 1905.5,1963.69 1906.5,1963.36 1907.5,1962.66 1908.5,1961.81 1909.5,1961.09 1910.5,1960.72 1911.5,1960.82 1912.5,1961.36 1913.5,1962.17 1914.5,1962.98 1915.5,1963.55 1916.5,1963.69 1917.5,1963.35 1918.5,1962.65 1919.5,1961.81 1920.5,1961.09 1921.5,1960.72 1922.5,1960.82 1923.5,1961.36 1924.5,1962.17 1925.5,1962.99 1926.5,1963.55 1927.5,1963.69 1928.5,1963.35 1929.5,1962.65 1930.5,1961.80 1931.5,1961.09 1932.5,1960.72 1933.5,1960.82 1934.5,1961.37 1935.5,1962.17 1936.5,1962.99 1937.5,1963.55 1938.5,1963.69 1939.5,1963.35 1940.5,1962.65 1941.5,1961.80 1942.5,1961.08 1943.5,1960.72 1944.5,1960.83 1945.5,1961.37 1946.5,1962.18 1947.5,1962.99 1948.5,1963.55 1949.5,1963.69 1950.5,1963.35 1951.5,1962.64 1952.5,1961.80 1953.5,1961.08 1954.5,1960.72 1955.5,1960.83 1956.5,1961.37 1957.5,1962.18 1958.5,1962.99 1959.5,1963.56 1960.5,1963.69 1961.5,1963.35 1962.5,1962.64 1963.5,1961.80 1964.5,1961.08 1965.5,1960.72 1966.5,1960.83 1967.5,1961.37 1968.5,1962.18 1969.5,1963.00 1970.5,1963.56 1971.5,1963.69 1972.5,1963.34 1973.5,1962.64 1974.5,1961.79 1975.5,1961.08 1976.5,1960.72 1977.5,1960.83 1978.5,1961.38 1979.5,1962.18 1980.5,1963.00 1981.5,1963.56 1982.5,1963.69 1983.5,1963.34 1984.5,1962.64 1985.5,1961.79 1986.5,1961.08 1987.5,1960.72 1988.5,1960.83 1989.5,1961.38 1990.5,1962.19 1991.5,1963.00 1992.5,1963.56 1993.5,1963.69 1994.5,1963.34 1995.5,1962.63 1996.5,1961.79 1997.5,1961.07 1998.5,1960.72 1999.5,1960.83 2000.5,1961.38 2001.5,1962.19 2002.5,1963.00 2003.5,1963.56 2004.5,1963.69 2005.5,1963.34 2006.5,1962.63 2007.5,1961.78 2008.5,1961.07 2009.5,1960.72 2010.5,1960.83 2011.5,1961.38 2012.5,1962.19 2013.5,1963.01 2014.5,1963.56 2015.5,1963.69 2016.5,1963.34 2017.5,1962.63 2018.5,1961.78 2019.5,1961.07 2020.5,1960.72 2021.5,1960.83 2022.5,1961.39 2023.5,1962.20 2024.5,1963.01 2025.5,1963.56 2026.5,1963.69 2027.5,1963.33 2028.5,1962.62 2029.5,1961.78 2030.5,1961.07 2031.5,1960.72 2032.5,1960.84 2033.5,1961.39 2034.5,1962.20" fill="none" stroke="#7b7d84" stroke-width="2.7" stroke-linejoin="round"/>
<g stroke="#1a1a1a" stroke-width="1.5">
<line x1="1291.3" y1="1398.4" x2="1291.3" y2="1991.5"/>
<line x1="1408.7" y1="718" x2="1408.7" y2="1991.5"/>
<line x1="1526.1" y1="718" x2="1526.1" y2="1991.5"/>
<line x1="1643.8" y1="718" x2="1643.8" y2="1991.5"/>
<line x1="1761.3" y1="718" x2="1761.3" y2="1991.5"/>
<line x1="1878.7" y1="718" x2="1878.7" y2="1991.5"/>
<line x1="1996.8" y1="718" x2="1996.8" y2="1991.5"/>
</g>
<polygon points="1050,710 1096,685 1096,699 1263.5,699 1263.5,721 1096,721 1096,735" fill="#a6232f"/>
<polygon points="1050,1962 1096,1937 1096,1951 1263.5,1951 1263.5,1973 1096,1973 1096,1987" fill="#a6232f"/>
<polygon points="1376.7,1380.8 1330,1355.8 1330,1369.8 1162,1369.8 1162,1391.8 1330,1391.8 1330,1405.8" fill="#4472b8"/>
<text x="1175.3" y="692.3" font-size="32" text-anchor="middle" fill="#a6232f" stroke="#a6232f" stroke-width="0.5" textLength="134.5" lengthAdjust="spacingAndGlyphs">WARMING</text>
<text x="1175.3" y="1944.3" font-size="32" text-anchor="middle" fill="#a6232f" stroke="#a6232f" stroke-width="0.5" textLength="134.5" lengthAdjust="spacingAndGlyphs">WARMING</text>
<text x="1250" y="1363.3" font-size="32" text-anchor="middle" fill="#4472b8" stroke="#4472b8" stroke-width="0.5" textLength="127" lengthAdjust="spacingAndGlyphs">COOLING</text>
<line x1="487.8" y1="167.4" x2="2041.5" y2="167.4" stroke="#aca6a4" stroke-width="3" stroke-dasharray="5.8 6.777"/>
<line x1="487.8" y1="1021" x2="2041.5" y2="1021" stroke="#9aa3b3" stroke-width="3" stroke-dasharray="5.8 6.777"/>
<line x1="487.8" y1="1355.9" x2="2029" y2="1355.9" stroke="#a2a6b3" stroke-width="3" stroke-dasharray="5.8 6.777"/>
<line x1="487.8" y1="1368.2" x2="2029" y2="1368.2" stroke="#a2a6b3" stroke-width="3" stroke-dasharray="5.8 6.777"/>
<text x="619" y="1014" font-size="36.7" font-weight="bold" text-anchor="middle" fill="#6e6e70" stroke="#6e6e70" stroke-width="0.35" textLength="195" lengthAdjust="spacingAndGlyphs">TAGHANIC</text>
<text x="619.4" y="1051.3" font-size="36.7" font-weight="bold" text-anchor="middle" fill="#6e6e70" stroke="#6e6e70" stroke-width="0.35" textLength="131" lengthAdjust="spacingAndGlyphs">ONLAP</text>
<polygon points="496.3,1020.3 518.7,1010 518.7,1030.6" fill="#6e6e70"/>
<text x="848.6" y="1957.2" font-size="36.7" font-weight="bold" text-anchor="middle" fill="#6e6e70" stroke="#6e6e70" stroke-width="0.35" textLength="194" lengthAdjust="spacingAndGlyphs">TAGHANIC</text>
<text x="848.5" y="1993.8" font-size="36.7" font-weight="bold" text-anchor="middle" fill="#6e6e70" stroke="#6e6e70" stroke-width="0.35" textLength="302.5" lengthAdjust="spacingAndGlyphs">UNCONFORMITY</text>
<polygon points="486,2404.2 508.4,2393 508.4,2415.4" fill="#6e6e70"/>
<text x="512.3" y="2418.3" font-size="37.5" fill="#6e6e70" stroke="#6e6e70" stroke-width="0.3" textLength="338" lengthAdjust="spacingAndGlyphs">South Lansing Beds</text>
<text x="609.2" y="157.3" font-size="34" text-anchor="middle" textLength="233" lengthAdjust="spacingAndGlyphs" fill="#000" stroke="#000" stroke-width="0.9" stroke-linejoin="round" filter="url(#redol)">GENESEO EVENT</text>
<text x="584.6" y="1302.8" font-size="34" text-anchor="middle" textLength="183" lengthAdjust="spacingAndGlyphs" fill="#000" stroke="#000" stroke-width="0.9" stroke-linejoin="round" filter="url(#redol)">UPPER TULLY</text>
<text x="584.6" y="1342.3" font-size="34" text-anchor="middle" textLength="89" lengthAdjust="spacingAndGlyphs" fill="#000" stroke="#000" stroke-width="0.9" stroke-linejoin="round" filter="url(#redol)">EVENT</text>
<text x="586.5" y="1891.3" font-size="34" text-anchor="middle" textLength="188" lengthAdjust="spacingAndGlyphs" fill="#000" stroke="#000" stroke-width="0.9" stroke-linejoin="round" filter="url(#redol)">LOWER TULLY</text>
<text x="587" y="1930.8" font-size="34" text-anchor="middle" textLength="89" lengthAdjust="spacingAndGlyphs" fill="#000" stroke="#000" stroke-width="0.9" stroke-linejoin="round" filter="url(#redol)">EVENT</text>
<polyline points="834.7,132.3 805.8,138 826.4,144.3 808.6,155.2 794.9,160.3 811.5,172.3 769.8,177.5 777.8,185.5 786.3,194.6 738.7,211.2 733.2,231.2 839.6,253.3 851,275.3 814.2,298.2 753,318.2 805.4,341 974.3,362.2 867.4,385 825.4,401.4 861.4,424.2 906.3,446.2 873,468.3 917.5,490.3 878.2,511.1 915.1,533.1 912.3,555.5 940.3,567.1 946.3,579.1 951.1,609.1 965.5,620.3 984.3,631.5 946.3,642.4 936.3,655.2 993.5,669.2 990.3,681.2 1024.3,698.5 999,710 977,722 1022,732.5 1058,755.3 1117.4,774 1086.2,791.3 1237,807.7 1248.3,830.1 1291.1,852.1 1220.3,872.1 1192.2,894.1 1265.1,917 1212.3,939 1282.3,961 1273.1,973 1327.1,984.2 1128.2,990.2 1279.5,995 1248.3,1001.4 934.9,1007.4 965.7,1012.2 1310.3,1017.4 1285.1,1024.2 1212.3,1029 1197.5,1035.4 1159,1046.2 1178.2,1066.2 904.1,1087.4 1013,1110.3 1119.4,1115.5 1156.2,1121.1 906.9,1140.7 1074.6,1158.3 1058.2,1196.7 1192.2,1213.5 1147.4,1225.5 1116.6,1242.3 977,1264.3 1091,1286.4 1111.4,1308.6 1086.1,1329.1 1086.1,1351.4 1052.7,1350 1047.5,1354.3 940.8,1359.8 1013.6,1365.1 1050.1,1371 1097.6,1376.6 862.2,1379.2 904.3,1396 881.4,1413.3 876.2,1438.1 873,1460.9 836.6,1472.9 828.2,1494.9 862.2,1505.3 898.2,1527.3 856.2,1550.9 850.2,1573.4 896.2,1583.4 870.2,1601 850.6,1620.2 789.4,1653.8 825.4,1676.2 881.4,1701 778.2,1723.4 753.4,1745.5 805.4,1768.3 789.4,1791.1 806.2,1813.1 772.2,1824.3 761,1836.3 783.4,1858.3 789.4,1876.3 794.2,1880.3 722,1883.5 750.4,1888.3 756.4,1906 716.5,1916.6 739.3,1928.1 699.8,1936.3 671.5,1939.8 612.3,1942.7 573.8,1947.5 592.6,1950 531.7,1953.1 638,1959 554,1962 597.8,1961.2 536.9,1970.6 618.4,1969.8 588.3,1981 593.5,2007.5 643.3,2020.9 711,2032.1 769.4,2043.3 769,2060.1 848.2,2071.3 839,2076.9 850.2,2093.3 814.2,2104.9 878.2,2116.1 823,2132.9 873,2144.2 858.2,2155.4 884.2,2164.2" fill="none" stroke="#000" stroke-width="3.3" stroke-linejoin="round"/>
<g fill="#000">
<circle cx="834.7" cy="132.3" r="9.7"/>
<circle cx="805.8" cy="138" r="9.7"/>
<circle cx="826.4" cy="144.3" r="9.7"/>
<circle cx="808.6" cy="155.2" r="9.7"/>
<circle cx="794.9" cy="160.3" r="9.7"/>
<circle cx="811.5" cy="172.3" r="9.7"/>
<circle cx="769.8" cy="177.5" r="9.7"/>
<circle cx="777.8" cy="185.5" r="9.7"/>
<circle cx="786.3" cy="194.6" r="9.7"/>
<circle cx="738.7" cy="211.2" r="9.7"/>
<circle cx="733.2" cy="231.2" r="9.7"/>
<circle cx="839.6" cy="253.3" r="9.7"/>
<circle cx="851" cy="275.3" r="9.7"/>
<circle cx="814.2" cy="298.2" r="9.7"/>
<circle cx="753" cy="318.2" r="9.7"/>
<circle cx="805.4" cy="341" r="9.7"/>
<circle cx="974.3" cy="362.2" r="9.7"/>
<circle cx="867.4" cy="385" r="9.7"/>
<circle cx="825.4" cy="401.4" r="9.7"/>
<circle cx="861.4" cy="424.2" r="9.7"/>
<circle cx="906.3" cy="446.2" r="9.7"/>
<circle cx="873" cy="468.3" r="9.7"/>
<circle cx="917.5" cy="490.3" r="9.7"/>
<circle cx="878.2" cy="511.1" r="9.7"/>
<circle cx="915.1" cy="533.1" r="9.7"/>
<circle cx="912.3" cy="555.5" r="9.7"/>
<circle cx="940.3" cy="567.1" r="9.7"/>
<circle cx="946.3" cy="579.1" r="9.7"/>
<circle cx="951.1" cy="609.1" r="9.7"/>
<circle cx="965.5" cy="620.3" r="9.7"/>
<circle cx="984.3" cy="631.5" r="9.7"/>
<circle cx="946.3" cy="642.4" r="9.7"/>
<circle cx="936.3" cy="655.2" r="9.7"/>
<circle cx="993.5" cy="669.2" r="9.7"/>
<circle cx="990.3" cy="681.2" r="9.7"/>
<circle cx="1024.3" cy="698.5" r="9.7"/>
<circle cx="999" cy="710" r="9.7"/>
<circle cx="977" cy="722" r="9.7"/>
<circle cx="1022" cy="732.5" r="9.7"/>
<circle cx="1058" cy="755.3" r="9.7"/>
<circle cx="1117.4" cy="774" r="9.7"/>
<circle cx="1086.2" cy="791.3" r="9.7"/>
<circle cx="1237" cy="807.7" r="9.7"/>
<circle cx="1248.3" cy="830.1" r="9.7"/>
<circle cx="1291.1" cy="852.1" r="9.7"/>
<circle cx="1220.3" cy="872.1" r="9.7"/>
<circle cx="1192.2" cy="894.1" r="9.7"/>
<circle cx="1265.1" cy="917" r="9.7"/>
<circle cx="1212.3" cy="939" r="9.7"/>
<circle cx="1282.3" cy="961" r="9.7"/>
<circle cx="1273.1" cy="973" r="9.7"/>
<circle cx="1327.1" cy="984.2" r="9.7"/>
<circle cx="1128.2" cy="990.2" r="9.7"/>
<circle cx="1279.5" cy="995" r="9.7"/>
<circle cx="1248.3" cy="1001.4" r="9.7"/>
<circle cx="934.9" cy="1007.4" r="9.7"/>
<circle cx="965.7" cy="1012.2" r="9.7"/>
<circle cx="1310.3" cy="1017.4" r="9.7"/>
<circle cx="1285.1" cy="1024.2" r="9.7"/>
<circle cx="1212.3" cy="1029" r="9.7"/>
<circle cx="1197.5" cy="1035.4" r="9.7"/>
<circle cx="1159" cy="1046.2" r="9.7"/>
<circle cx="1178.2" cy="1066.2" r="9.7"/>
<circle cx="904.1" cy="1087.4" r="9.7"/>
<circle cx="1013" cy="1110.3" r="9.7"/>
<circle cx="1119.4" cy="1115.5" r="9.7"/>
<circle cx="1156.2" cy="1121.1" r="9.7"/>
<circle cx="906.9" cy="1140.7" r="9.7"/>
<circle cx="1074.6" cy="1158.3" r="9.7"/>
<circle cx="1058.2" cy="1196.7" r="9.7"/>
<circle cx="1192.2" cy="1213.5" r="9.7"/>
<circle cx="1147.4" cy="1225.5" r="9.7"/>
<circle cx="1116.6" cy="1242.3" r="9.7"/>
<circle cx="977" cy="1264.3" r="9.7"/>
<circle cx="1091" cy="1286.4" r="9.7"/>
<circle cx="1111.4" cy="1308.6" r="9.7"/>
<circle cx="1086.1" cy="1329.1" r="9.7"/>
<circle cx="1086.1" cy="1351.4" r="9.7"/>
<circle cx="1052.7" cy="1350" r="9.7"/>
<circle cx="1047.5" cy="1354.3" r="9.7"/>
<circle cx="940.8" cy="1359.8" r="9.7"/>
<circle cx="1013.6" cy="1365.1" r="9.7"/>
<circle cx="1050.1" cy="1371" r="9.7"/>
<circle cx="1097.6" cy="1376.6" r="9.7"/>
<circle cx="862.2" cy="1379.2" r="9.7"/>
<circle cx="904.3" cy="1396" r="9.7"/>
<circle cx="881.4" cy="1413.3" r="9.7"/>
<circle cx="876.2" cy="1438.1" r="9.7"/>
<circle cx="873" cy="1460.9" r="9.7"/>
<circle cx="836.6" cy="1472.9" r="9.7"/>
<circle cx="828.2" cy="1494.9" r="9.7"/>
<circle cx="862.2" cy="1505.3" r="9.7"/>
<circle cx="898.2" cy="1527.3" r="9.7"/>
<circle cx="856.2" cy="1550.9" r="9.7"/>
<circle cx="850.2" cy="1573.4" r="9.7"/>
<circle cx="896.2" cy="1583.4" r="9.7"/>
<circle cx="870.2" cy="1601" r="9.7"/>
<circle cx="850.6" cy="1620.2" r="9.7"/>
<circle cx="789.4" cy="1653.8" r="9.7"/>
<circle cx="825.4" cy="1676.2" r="9.7"/>
<circle cx="881.4" cy="1701" r="9.7"/>
<circle cx="778.2" cy="1723.4" r="9.7"/>
<circle cx="753.4" cy="1745.5" r="9.7"/>
<circle cx="805.4" cy="1768.3" r="9.7"/>
<circle cx="789.4" cy="1791.1" r="9.7"/>
<circle cx="806.2" cy="1813.1" r="9.7"/>
<circle cx="772.2" cy="1824.3" r="9.7"/>
<circle cx="761" cy="1836.3" r="9.7"/>
<circle cx="783.4" cy="1858.3" r="9.7"/>
<circle cx="789.4" cy="1876.3" r="9.7"/>
<circle cx="794.2" cy="1880.3" r="9.7"/>
<circle cx="722" cy="1883.5" r="9.7"/>
<circle cx="750.4" cy="1888.3" r="9.7"/>
<circle cx="756.4" cy="1906" r="9.7"/>
<circle cx="716.5" cy="1916.6" r="9.7"/>
<circle cx="739.3" cy="1928.1" r="9.7"/>
<circle cx="699.8" cy="1936.3" r="9.7"/>
<circle cx="671.5" cy="1939.8" r="9.7"/>
<circle cx="612.3" cy="1942.7" r="9.7"/>
<circle cx="573.8" cy="1947.5" r="9.7"/>
<circle cx="592.6" cy="1950" r="9.7"/>
<circle cx="531.7" cy="1953.1" r="9.7"/>
<circle cx="638" cy="1959" r="9.7"/>
<circle cx="554" cy="1962" r="9.7"/>
<circle cx="597.8" cy="1961.2" r="9.7"/>
<circle cx="536.9" cy="1970.6" r="9.7"/>
<circle cx="618.4" cy="1969.8" r="9.7"/>
<circle cx="588.3" cy="1981" r="9.7"/>
<circle cx="593.5" cy="2007.5" r="9.7"/>
<circle cx="643.3" cy="2020.9" r="9.7"/>
<circle cx="711" cy="2032.1" r="9.7"/>
<circle cx="769.4" cy="2043.3" r="9.7"/>
<circle cx="769" cy="2060.1" r="9.7"/>
<circle cx="848.2" cy="2071.3" r="9.7"/>
<circle cx="839" cy="2076.9" r="9.7"/>
<circle cx="850.2" cy="2093.3" r="9.7"/>
<circle cx="814.2" cy="2104.9" r="9.7"/>
<circle cx="878.2" cy="2116.1" r="9.7"/>
<circle cx="823" cy="2132.9" r="9.7"/>
<circle cx="873" cy="2144.2" r="9.7"/>
<circle cx="858.2" cy="2155.4" r="9.7"/>
<circle cx="884.2" cy="2164.2" r="9.7"/>
</g>
<g stroke="#1a1a1a" stroke-width="1.4">
<line x1="1593.7" y1="736" x2="1655" y2="736"/>
<line x1="1597" y1="955.4" x2="1714" y2="955.4"/>
<line x1="1672.6" y1="1213.5" x2="1813.5" y2="1213.5"/>
<line x1="1590" y1="1273.5" x2="1618" y2="1273.5"/>
<line x1="1670.6" y1="1284" x2="1849" y2="1284"/>
<line x1="1839" y1="1312" x2="2022" y2="1312"/>
<line x1="1595.4" y1="1361" x2="1713.4" y2="1361"/>
<line x1="1504" y1="1389.7" x2="1579.4" y2="1389.7"/>
<line x1="1588.5" y1="1446" x2="1639.8" y2="1446"/>
<line x1="1570" y1="1500" x2="1791" y2="1500"/>
<line x1="1437.6" y1="1579.5" x2="1466" y2="1579.5"/>
<line x1="1578.5" y1="1581" x2="1794.4" y2="1581"/>
<line x1="1613.7" y1="1580.4" x2="1730" y2="1580.4"/>
<line x1="1264.6" y1="1692" x2="1367.6" y2="1692"/>
<line x1="1552" y1="1696" x2="1697.4" y2="1696"/>
<line x1="1596.8" y1="1803" x2="1676.8" y2="1803"/>
<line x1="1545" y1="1877.8" x2="1625" y2="1877.8"/>
<line x1="1496" y1="1947.8" x2="1562" y2="1947.8"/>
</g><g fill="#000">
<circle cx="1624" cy="736" r="7.9"/>
<circle cx="1655.8" cy="955.4" r="7.9"/>
<circle cx="1743" cy="1213.5" r="7.9"/>
<circle cx="1603.7" cy="1273.5" r="7.9"/>
<circle cx="1759.4" cy="1284" r="7.9"/>
<circle cx="1785.4" cy="1286.8" r="7.9"/>
<circle cx="1930.5" cy="1312" r="7.9"/>
<circle cx="1654.4" cy="1361" r="7.9"/>
<circle cx="1541.4" cy="1389.7" r="7.9"/>
<circle cx="1615.5" cy="1446" r="7.9"/>
<circle cx="1680" cy="1500" r="7.9"/>
<circle cx="1451.7" cy="1579.5" r="7.9"/>
<circle cx="1672" cy="1581" r="7.9"/>
<circle cx="1687" cy="1580.4" r="7.9"/>
<circle cx="1595.4" cy="1669" r="7.9"/>
<circle cx="1313" cy="1692" r="7.9"/>
<circle cx="1624.7" cy="1696" r="7.9"/>
<circle cx="1653.5" cy="1696" r="7.9"/>
<circle cx="1636.5" cy="1803" r="7.9"/>
<circle cx="1585.3" cy="1877.8" r="7.9"/>
<circle cx="1528.6" cy="1947.8" r="7.9"/>
</g>
<g stroke="#000" stroke-width="3.8" fill="none">
<line x1="566.4" y1="2180.4" x2="1348.9" y2="2180.4"/>
<line x1="568.5" y1="2180.4" x2="568.5" y2="2192.6"/>
<line x1="680.4" y1="2180.4" x2="680.4" y2="2204.6"/>
<line x1="792.4" y1="2180.4" x2="792.4" y2="2192.6"/>
<line x1="898.5" y1="2180.4" x2="898.5" y2="2204.6"/>
<line x1="1010.8" y1="2180.4" x2="1010.8" y2="2192.6"/>
<line x1="1122.1" y1="2180.4" x2="1122.1" y2="2204.6"/>
<line x1="1235.0" y1="2180.4" x2="1235.0" y2="2192.6"/>
<line x1="1346.9" y1="2180.4" x2="1346.9" y2="2204.6"/>
<line x1="1289.4" y1="1991.5" x2="1998.7" y2="1991.5"/>
<line x1="1291.3" y1="1991.5" x2="1291.3" y2="2016.9"/>
<line x1="1408.7" y1="1991.5" x2="1408.7" y2="2003.7"/>
<line x1="1526.1" y1="1991.5" x2="1526.1" y2="2016.9"/>
<line x1="1643.8" y1="1991.5" x2="1643.8" y2="2003.7"/>
<line x1="1761.3" y1="1991.5" x2="1761.3" y2="2016.9"/>
<line x1="1878.7" y1="1991.5" x2="1878.7" y2="2003.7"/>
<line x1="1996.8" y1="1991.5" x2="1996.8" y2="2016.9"/>
</g>
<text x="680.0" y="2233.5" font-size="35.5" text-anchor="middle" fill="#111" stroke="#111" stroke-width="0.5">0.0</text>
<text x="898.8" y="2233.5" font-size="35.5" text-anchor="middle" fill="#111" stroke="#111" stroke-width="0.5">1.0</text>
<text x="1121.3" y="2233.5" font-size="35.5" text-anchor="middle" fill="#111" stroke="#111" stroke-width="0.5">2.0</text>
<text x="1347.3" y="2233.5" font-size="35.5" text-anchor="middle" fill="#111" stroke="#111" stroke-width="0.5">3.0</text>
<text x="1290.6" y="2046.6" font-size="34" text-anchor="middle" fill="#111" stroke="#111" stroke-width="0.5">15.0</text>
<text x="1525.6" y="2046.6" font-size="34" text-anchor="middle" fill="#111" stroke="#111" stroke-width="0.5">16.0</text>
<text x="1760.6" y="2046.6" font-size="34" text-anchor="middle" fill="#111" stroke="#111" stroke-width="0.5">17.0</text>
<text x="1995.2" y="2046.6" font-size="34" text-anchor="middle" fill="#111" stroke="#111" stroke-width="0.5">18.0</text>
<text x="701.5" y="2292.5" font-size="42" font-weight="bold" fill="#000" textLength="26.0" lengthAdjust="spacingAndGlyphs">δ</text>
<text x="732" y="2285" font-size="26" font-weight="bold" fill="#000" textLength="32.0" lengthAdjust="spacingAndGlyphs">13</text>
<text x="764" y="2292.5" font-size="42" font-weight="bold" fill="#000" textLength="34.5" lengthAdjust="spacingAndGlyphs">C</text>
<text x="797" y="2300" font-size="32" font-weight="bold" fill="#000" textLength="68.0" lengthAdjust="spacingAndGlyphs">carb</text>
<text x="878" y="2292.5" font-size="42" font-weight="bold" fill="#000" textLength="214.0" lengthAdjust="spacingAndGlyphs">(‰ VPDB)</text>
<text x="1440.3" y="2096.3" font-size="36.7" font-weight="bold" fill="#000" textLength="22.2" lengthAdjust="spacingAndGlyphs">δ</text>
<text x="1465" y="2084.3" font-size="37" font-weight="bold" fill="#000" textLength="39.0" lengthAdjust="spacingAndGlyphs">18</text>
<text x="1503.5" y="2096.3" font-size="36.7" font-weight="bold" fill="#000" textLength="31.0" lengthAdjust="spacingAndGlyphs">O</text>
<text x="1533" y="2109.5" font-size="26" font-weight="bold" fill="#000" textLength="71.5" lengthAdjust="spacingAndGlyphs">apatite</text>
<text x="1613" y="2096.3" font-size="36.7" font-weight="bold" fill="#000" textLength="219.5" lengthAdjust="spacingAndGlyphs">(‰ VSMOW)</text>
<rect x="2" y="2.25" width="2046" height="2457" fill="none" stroke="#000" stroke-width="4"/>
</svg></body></html>
